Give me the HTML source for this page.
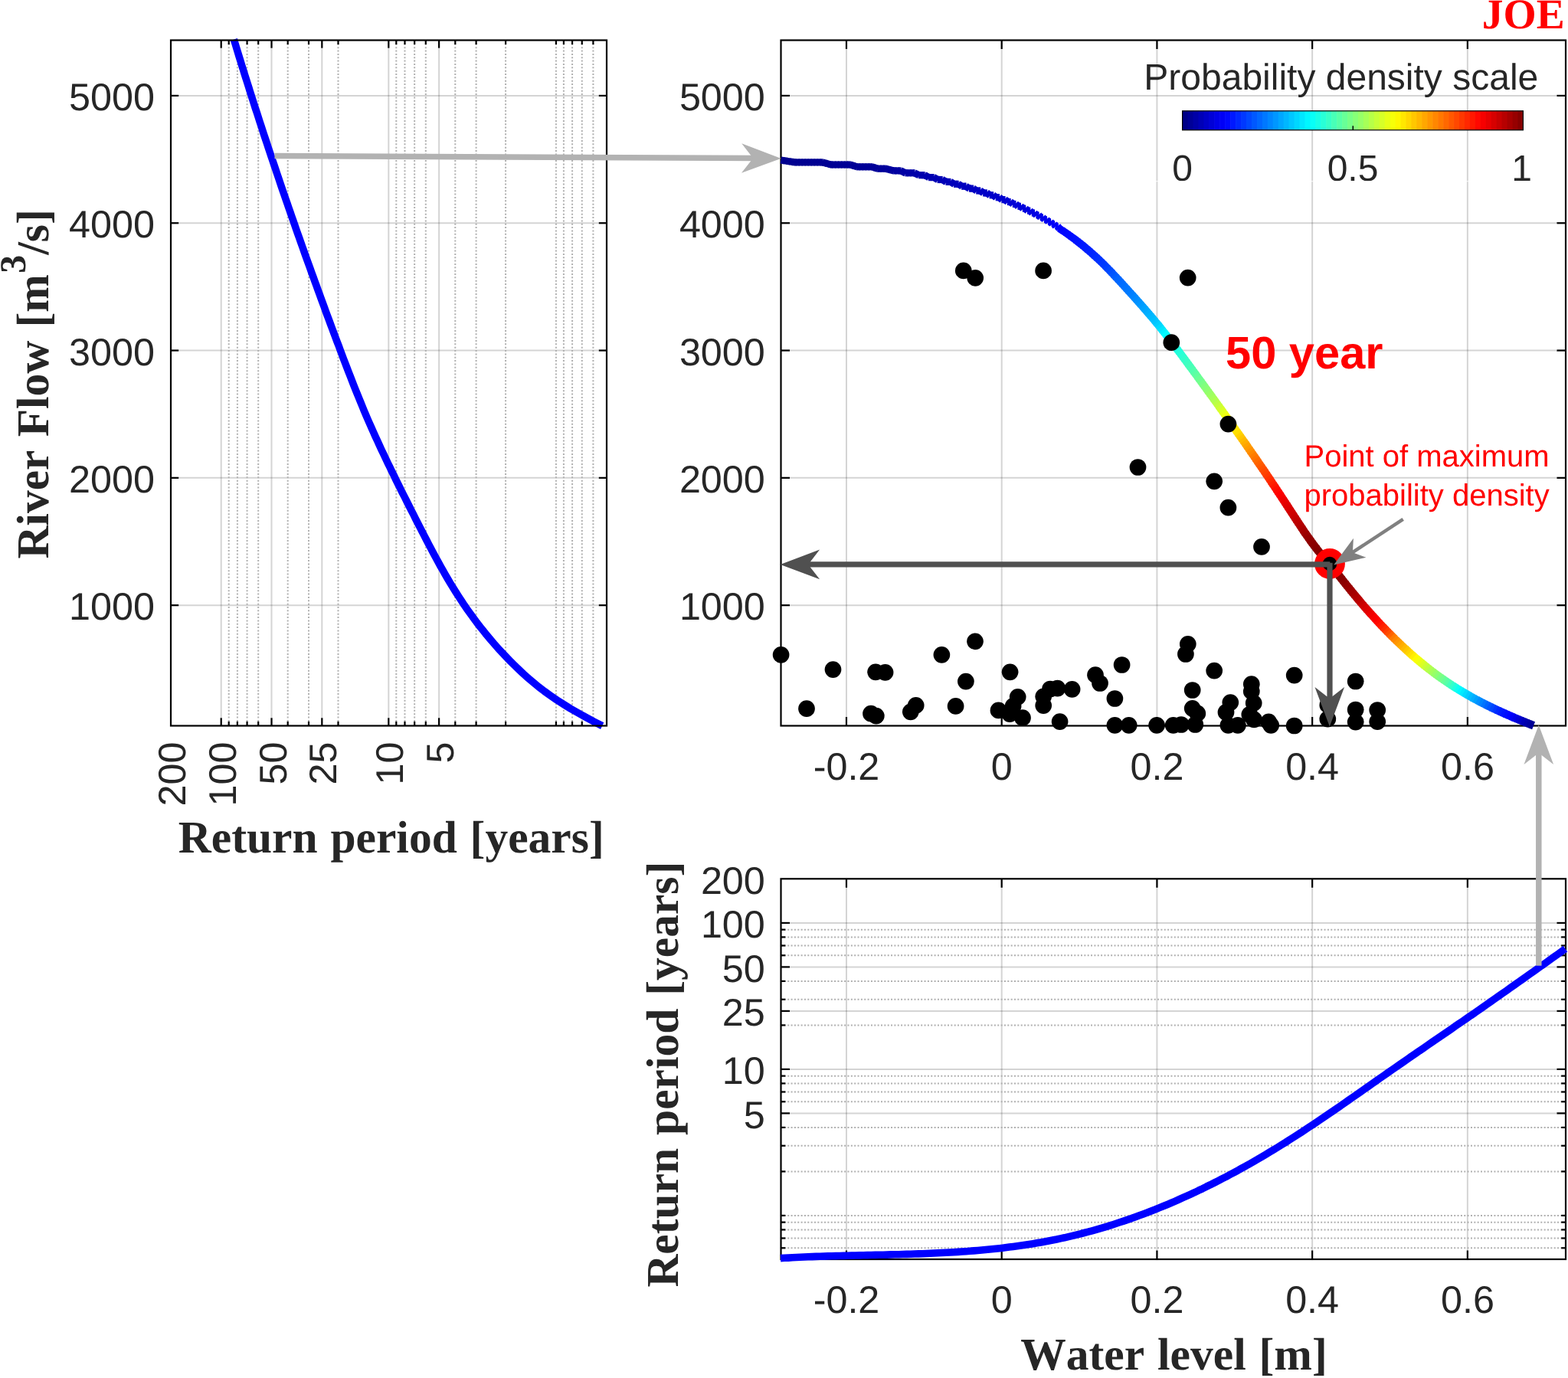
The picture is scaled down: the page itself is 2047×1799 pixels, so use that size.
<!DOCTYPE html>
<html lang="en"><head><meta charset="utf-8"><title>JOE</title>
<style>
html,body{margin:0;padding:0;background:#fff;}
body{width:2047px;height:1799px;overflow:hidden;}
svg{display:block;}
text{white-space:pre;font-kerning:none;}
</style></head>
<body>
<svg width="2047" height="1799" viewBox="0 0 2047 1799" text-rendering="geometricPrecision">
<rect width="2047" height="1799" fill="#fff"/>
<defs>
<clipPath id="cl"><rect x="223.0" y="50.0" width="569.0" height="900.0"/></clipPath>
<clipPath id="cb"><rect x="1018.5" y="1147.3" width="1028.0" height="499.20000000000005"/></clipPath>
<clipPath id="cc"><rect x="1019.5" y="52.5" width="1024.5" height="896.0"/></clipPath>
</defs>
<g id="left">
<line x1="288.70" y1="52.50" x2="288.70" y2="947.50" stroke="rgba(38,38,38,0.2)" stroke-width="2" />
<line x1="354.51" y1="52.50" x2="354.51" y2="947.50" stroke="rgba(38,38,38,0.2)" stroke-width="2" />
<line x1="420.31" y1="52.50" x2="420.31" y2="947.50" stroke="rgba(38,38,38,0.2)" stroke-width="2" />
<line x1="507.30" y1="52.50" x2="507.30" y2="947.50" stroke="rgba(38,38,38,0.2)" stroke-width="2" />
<line x1="573.11" y1="52.50" x2="573.11" y2="947.50" stroke="rgba(38,38,38,0.2)" stroke-width="2" />
<line x1="223.00" y1="790.18" x2="792.00" y2="790.18" stroke="rgba(38,38,38,0.2)" stroke-width="2" />
<line x1="223.00" y1="623.86" x2="792.00" y2="623.86" stroke="rgba(38,38,38,0.2)" stroke-width="2" />
<line x1="223.00" y1="457.54" x2="792.00" y2="457.54" stroke="rgba(38,38,38,0.2)" stroke-width="2" />
<line x1="223.00" y1="291.22" x2="792.00" y2="291.22" stroke="rgba(38,38,38,0.2)" stroke-width="2" />
<line x1="223.00" y1="124.90" x2="792.00" y2="124.90" stroke="rgba(38,38,38,0.2)" stroke-width="2" />
<line x1="298.70" y1="52.50" x2="298.70" y2="947.50" stroke="#b0b0b0" stroke-width="2" stroke-dasharray="2 2.35"/>
<line x1="309.88" y1="52.50" x2="309.88" y2="947.50" stroke="#b0b0b0" stroke-width="2" stroke-dasharray="2 2.35"/>
<line x1="322.56" y1="52.50" x2="322.56" y2="947.50" stroke="#b0b0b0" stroke-width="2" stroke-dasharray="2 2.35"/>
<line x1="337.20" y1="52.50" x2="337.20" y2="947.50" stroke="#b0b0b0" stroke-width="2" stroke-dasharray="2 2.35"/>
<line x1="375.69" y1="52.50" x2="375.69" y2="947.50" stroke="#b0b0b0" stroke-width="2" stroke-dasharray="2 2.35"/>
<line x1="403.00" y1="52.50" x2="403.00" y2="947.50" stroke="#b0b0b0" stroke-width="2" stroke-dasharray="2 2.35"/>
<line x1="441.49" y1="52.50" x2="441.49" y2="947.50" stroke="#b0b0b0" stroke-width="2" stroke-dasharray="2 2.35"/>
<line x1="517.30" y1="52.50" x2="517.30" y2="947.50" stroke="#b0b0b0" stroke-width="2" stroke-dasharray="2 2.35"/>
<line x1="528.48" y1="52.50" x2="528.48" y2="947.50" stroke="#b0b0b0" stroke-width="2" stroke-dasharray="2 2.35"/>
<line x1="541.16" y1="52.50" x2="541.16" y2="947.50" stroke="#b0b0b0" stroke-width="2" stroke-dasharray="2 2.35"/>
<line x1="555.80" y1="52.50" x2="555.80" y2="947.50" stroke="#b0b0b0" stroke-width="2" stroke-dasharray="2 2.35"/>
<line x1="594.29" y1="52.50" x2="594.29" y2="947.50" stroke="#b0b0b0" stroke-width="2" stroke-dasharray="2 2.35"/>
<line x1="621.60" y1="52.50" x2="621.60" y2="947.50" stroke="#b0b0b0" stroke-width="2" stroke-dasharray="2 2.35"/>
<line x1="660.09" y1="52.50" x2="660.09" y2="947.50" stroke="#b0b0b0" stroke-width="2" stroke-dasharray="2 2.35"/>
<line x1="725.90" y1="52.50" x2="725.90" y2="947.50" stroke="#b0b0b0" stroke-width="2" stroke-dasharray="2 2.35"/>
<line x1="735.90" y1="52.50" x2="735.90" y2="947.50" stroke="#b0b0b0" stroke-width="2" stroke-dasharray="2 2.35"/>
<line x1="747.08" y1="52.50" x2="747.08" y2="947.50" stroke="#b0b0b0" stroke-width="2" stroke-dasharray="2 2.35"/>
<line x1="759.76" y1="52.50" x2="759.76" y2="947.50" stroke="#b0b0b0" stroke-width="2" stroke-dasharray="2 2.35"/>
<line x1="774.40" y1="52.50" x2="774.40" y2="947.50" stroke="#b0b0b0" stroke-width="2" stroke-dasharray="2 2.35"/>
<line x1="288.70" y1="52.50" x2="288.70" y2="62.70" stroke="#000000" stroke-width="2.2" />
<line x1="288.70" y1="947.50" x2="288.70" y2="937.30" stroke="#000000" stroke-width="2.2" />
<line x1="354.51" y1="52.50" x2="354.51" y2="62.70" stroke="#000000" stroke-width="2.2" />
<line x1="354.51" y1="947.50" x2="354.51" y2="937.30" stroke="#000000" stroke-width="2.2" />
<line x1="420.31" y1="52.50" x2="420.31" y2="62.70" stroke="#000000" stroke-width="2.2" />
<line x1="420.31" y1="947.50" x2="420.31" y2="937.30" stroke="#000000" stroke-width="2.2" />
<line x1="507.30" y1="52.50" x2="507.30" y2="62.70" stroke="#000000" stroke-width="2.2" />
<line x1="507.30" y1="947.50" x2="507.30" y2="937.30" stroke="#000000" stroke-width="2.2" />
<line x1="573.11" y1="52.50" x2="573.11" y2="62.70" stroke="#000000" stroke-width="2.2" />
<line x1="573.11" y1="947.50" x2="573.11" y2="937.30" stroke="#000000" stroke-width="2.2" />
<line x1="298.70" y1="52.50" x2="298.70" y2="58.10" stroke="#000000" stroke-width="2.2" />
<line x1="298.70" y1="947.50" x2="298.70" y2="941.90" stroke="#000000" stroke-width="2.2" />
<line x1="309.88" y1="52.50" x2="309.88" y2="58.10" stroke="#000000" stroke-width="2.2" />
<line x1="309.88" y1="947.50" x2="309.88" y2="941.90" stroke="#000000" stroke-width="2.2" />
<line x1="322.56" y1="52.50" x2="322.56" y2="58.10" stroke="#000000" stroke-width="2.2" />
<line x1="322.56" y1="947.50" x2="322.56" y2="941.90" stroke="#000000" stroke-width="2.2" />
<line x1="337.20" y1="52.50" x2="337.20" y2="58.10" stroke="#000000" stroke-width="2.2" />
<line x1="337.20" y1="947.50" x2="337.20" y2="941.90" stroke="#000000" stroke-width="2.2" />
<line x1="375.69" y1="52.50" x2="375.69" y2="58.10" stroke="#000000" stroke-width="2.2" />
<line x1="375.69" y1="947.50" x2="375.69" y2="941.90" stroke="#000000" stroke-width="2.2" />
<line x1="403.00" y1="52.50" x2="403.00" y2="58.10" stroke="#000000" stroke-width="2.2" />
<line x1="403.00" y1="947.50" x2="403.00" y2="941.90" stroke="#000000" stroke-width="2.2" />
<line x1="441.49" y1="52.50" x2="441.49" y2="58.10" stroke="#000000" stroke-width="2.2" />
<line x1="441.49" y1="947.50" x2="441.49" y2="941.90" stroke="#000000" stroke-width="2.2" />
<line x1="517.30" y1="52.50" x2="517.30" y2="58.10" stroke="#000000" stroke-width="2.2" />
<line x1="517.30" y1="947.50" x2="517.30" y2="941.90" stroke="#000000" stroke-width="2.2" />
<line x1="528.48" y1="52.50" x2="528.48" y2="58.10" stroke="#000000" stroke-width="2.2" />
<line x1="528.48" y1="947.50" x2="528.48" y2="941.90" stroke="#000000" stroke-width="2.2" />
<line x1="541.16" y1="52.50" x2="541.16" y2="58.10" stroke="#000000" stroke-width="2.2" />
<line x1="541.16" y1="947.50" x2="541.16" y2="941.90" stroke="#000000" stroke-width="2.2" />
<line x1="555.80" y1="52.50" x2="555.80" y2="58.10" stroke="#000000" stroke-width="2.2" />
<line x1="555.80" y1="947.50" x2="555.80" y2="941.90" stroke="#000000" stroke-width="2.2" />
<line x1="594.29" y1="52.50" x2="594.29" y2="58.10" stroke="#000000" stroke-width="2.2" />
<line x1="594.29" y1="947.50" x2="594.29" y2="941.90" stroke="#000000" stroke-width="2.2" />
<line x1="621.60" y1="52.50" x2="621.60" y2="58.10" stroke="#000000" stroke-width="2.2" />
<line x1="621.60" y1="947.50" x2="621.60" y2="941.90" stroke="#000000" stroke-width="2.2" />
<line x1="660.09" y1="52.50" x2="660.09" y2="58.10" stroke="#000000" stroke-width="2.2" />
<line x1="660.09" y1="947.50" x2="660.09" y2="941.90" stroke="#000000" stroke-width="2.2" />
<line x1="725.90" y1="52.50" x2="725.90" y2="58.10" stroke="#000000" stroke-width="2.2" />
<line x1="725.90" y1="947.50" x2="725.90" y2="941.90" stroke="#000000" stroke-width="2.2" />
<line x1="735.90" y1="52.50" x2="735.90" y2="58.10" stroke="#000000" stroke-width="2.2" />
<line x1="735.90" y1="947.50" x2="735.90" y2="941.90" stroke="#000000" stroke-width="2.2" />
<line x1="747.08" y1="52.50" x2="747.08" y2="58.10" stroke="#000000" stroke-width="2.2" />
<line x1="747.08" y1="947.50" x2="747.08" y2="941.90" stroke="#000000" stroke-width="2.2" />
<line x1="759.76" y1="52.50" x2="759.76" y2="58.10" stroke="#000000" stroke-width="2.2" />
<line x1="759.76" y1="947.50" x2="759.76" y2="941.90" stroke="#000000" stroke-width="2.2" />
<line x1="774.40" y1="52.50" x2="774.40" y2="58.10" stroke="#000000" stroke-width="2.2" />
<line x1="774.40" y1="947.50" x2="774.40" y2="941.90" stroke="#000000" stroke-width="2.2" />
<line x1="223.00" y1="790.18" x2="233.20" y2="790.18" stroke="#000000" stroke-width="2.2" />
<line x1="792.00" y1="790.18" x2="781.80" y2="790.18" stroke="#000000" stroke-width="2.2" />
<line x1="223.00" y1="623.86" x2="233.20" y2="623.86" stroke="#000000" stroke-width="2.2" />
<line x1="792.00" y1="623.86" x2="781.80" y2="623.86" stroke="#000000" stroke-width="2.2" />
<line x1="223.00" y1="457.54" x2="233.20" y2="457.54" stroke="#000000" stroke-width="2.2" />
<line x1="792.00" y1="457.54" x2="781.80" y2="457.54" stroke="#000000" stroke-width="2.2" />
<line x1="223.00" y1="291.22" x2="233.20" y2="291.22" stroke="#000000" stroke-width="2.2" />
<line x1="792.00" y1="291.22" x2="781.80" y2="291.22" stroke="#000000" stroke-width="2.2" />
<line x1="223.00" y1="124.90" x2="233.20" y2="124.90" stroke="#000000" stroke-width="2.2" />
<line x1="792.00" y1="124.90" x2="781.80" y2="124.90" stroke="#000000" stroke-width="2.2" />
<path d="M305.3,51.5 L307.1,57.1 L308.8,62.8 L310.5,68.4 L312.2,74.0 L314.0,79.7 L315.7,85.3 L317.5,91.0 L319.2,96.6 L321.0,102.2 L322.8,107.9 L324.6,113.5 L326.3,119.1 L328.1,124.8 L329.9,130.4 L331.7,136.0 L333.5,141.7 L335.4,147.3 L337.2,152.9 L339.0,158.6 L340.9,164.2 L342.7,169.9 L344.5,175.5 L346.4,181.1 L348.3,186.8 L350.1,192.4 L352.0,198.0 L353.9,203.7 L355.8,209.3 L357.7,214.9 L359.6,220.6 L361.5,226.2 L363.4,231.8 L365.3,237.5 L367.2,243.1 L369.1,248.8 L371.1,254.4 L373.0,260.0 L375.0,265.7 L376.9,271.3 L378.9,276.9 L380.8,282.6 L382.8,288.2 L384.8,293.8 L386.7,299.5 L388.7,305.1 L390.7,310.7 L392.7,316.4 L394.7,322.0 L396.7,327.7 L398.7,333.3 L400.7,338.9 L402.8,344.6 L404.8,350.2 L406.8,355.8 L408.9,361.5 L410.9,367.1 L413.0,372.7 L415.0,378.4 L417.1,384.0 L419.1,389.7 L421.2,395.3 L423.3,400.9 L425.3,406.6 L427.4,412.2 L429.5,417.8 L431.6,423.5 L433.7,429.1 L435.8,434.7 L437.9,440.4 L440.0,446.0 L442.2,451.6 L444.3,457.3 L446.4,462.9 L448.5,468.6 L450.7,474.2 L452.8,479.8 L455.0,485.5 L457.2,491.1 L459.4,496.7 L461.6,502.4 L463.8,508.0 L466.1,513.6 L468.4,519.3 L470.7,524.9 L473.0,530.5 L475.3,536.2 L477.7,541.8 L480.1,547.5 L482.6,553.1 L485.1,558.7 L487.6,564.4 L490.1,570.0 L492.7,575.6 L495.3,581.3 L497.9,586.9 L500.6,592.5 L503.3,598.2 L505.9,603.8 L508.7,609.4 L511.4,615.1 L514.2,620.7 L516.9,626.4 L519.7,632.0 L522.5,637.6 L525.3,643.3 L528.2,648.9 L531.0,654.5 L533.9,660.2 L536.7,665.8 L539.6,671.4 L542.4,677.1 L545.3,682.7 L548.2,688.4 L551.1,694.0 L554.0,699.6 L556.9,705.3 L559.8,710.9 L562.8,716.5 L565.8,722.2 L568.8,727.8 L571.9,733.4 L575.0,739.1 L578.2,744.7 L581.4,750.3 L584.7,756.0 L588.0,761.6 L591.5,767.3 L595.0,772.9 L598.6,778.5 L602.3,784.2 L606.0,789.8 L609.9,795.4 L613.9,801.1 L618.0,806.7 L622.2,812.3 L626.5,818.0 L631.0,823.6 L635.5,829.2 L640.3,834.9 L645.1,840.5 L650.1,846.2 L655.3,851.8 L660.6,857.4 L666.1,863.1 L671.7,868.7 L677.5,874.3 L683.6,880.0 L689.9,885.6 L696.5,891.2 L703.4,896.9 L710.8,902.5 L718.6,908.1 L726.8,913.8 L735.6,919.4 L744.8,925.1 L754.5,930.7 L764.6,936.3 L775.2,942.0 L786.2,947.6" fill="none" stroke="#0000ff" stroke-width="9.6" stroke-linejoin="round"/>
<rect x="223.0" y="52.5" width="569.0" height="895.0" fill="none" stroke="#000000" stroke-width="2.2"/>
<text x="202" y="809.4" text-anchor="end" font-family="'Liberation Sans', Arial, Helvetica, sans-serif" font-size="50.3" fill="#262626">1000</text>
<text x="202" y="643.1" text-anchor="end" font-family="'Liberation Sans', Arial, Helvetica, sans-serif" font-size="50.3" fill="#262626">2000</text>
<text x="202" y="476.7" text-anchor="end" font-family="'Liberation Sans', Arial, Helvetica, sans-serif" font-size="50.3" fill="#262626">3000</text>
<text x="202" y="310.4" text-anchor="end" font-family="'Liberation Sans', Arial, Helvetica, sans-serif" font-size="50.3" fill="#262626">4000</text>
<text x="202" y="144.1" text-anchor="end" font-family="'Liberation Sans', Arial, Helvetica, sans-serif" font-size="50.3" fill="#262626">5000</text>
<text transform="translate(241.9,968.5) rotate(-90)" text-anchor="end" font-family="'Liberation Sans', Arial, Helvetica, sans-serif" font-size="50.3" fill="#262626">200</text>
<text transform="translate(307.7,968.5) rotate(-90)" text-anchor="end" font-family="'Liberation Sans', Arial, Helvetica, sans-serif" font-size="50.3" fill="#262626">100</text>
<text transform="translate(373.5,968.5) rotate(-90)" text-anchor="end" font-family="'Liberation Sans', Arial, Helvetica, sans-serif" font-size="50.3" fill="#262626">50</text>
<text transform="translate(439.3,968.5) rotate(-90)" text-anchor="end" font-family="'Liberation Sans', Arial, Helvetica, sans-serif" font-size="50.3" fill="#262626">25</text>
<text transform="translate(526.3,968.5) rotate(-90)" text-anchor="end" font-family="'Liberation Sans', Arial, Helvetica, sans-serif" font-size="50.3" fill="#262626">10</text>
<text transform="translate(592.1,968.5) rotate(-90)" text-anchor="end" font-family="'Liberation Sans', Arial, Helvetica, sans-serif" font-size="50.3" fill="#262626">5</text>
<text x="232.8" y="1112.9" word-spacing="2" font-family="'Liberation Serif', 'Times New Roman', Times, serif" font-weight="bold" font-size="59.5" fill="#262626">Return period [years]</text>
<text transform="translate(62.8,729.6) rotate(-90)" word-spacing="2.3" font-family="'Liberation Serif', 'Times New Roman', Times, serif" font-weight="bold" font-size="59.5" fill="#262626">River Flow [m<tspan font-size="48" dy="-30.3" dx="1.5">3</tspan><tspan dy="30.3" dx="0">/s]</tspan></text>
</g>
<g id="bottom">
<line x1="1019.50" y1="1204.90" x2="2044.00" y2="1204.90" stroke="rgba(38,38,38,0.2)" stroke-width="2" />
<line x1="1019.50" y1="1262.40" x2="2044.00" y2="1262.40" stroke="rgba(38,38,38,0.2)" stroke-width="2" />
<line x1="1019.50" y1="1319.89" x2="2044.00" y2="1319.89" stroke="rgba(38,38,38,0.2)" stroke-width="2" />
<line x1="1019.50" y1="1395.90" x2="2044.00" y2="1395.90" stroke="rgba(38,38,38,0.2)" stroke-width="2" />
<line x1="1019.50" y1="1453.40" x2="2044.00" y2="1453.40" stroke="rgba(38,38,38,0.2)" stroke-width="2" />
<line x1="1104.98" y1="1147.30" x2="1104.98" y2="1644.00" stroke="rgba(38,38,38,0.2)" stroke-width="2" />
<line x1="1307.70" y1="1147.30" x2="1307.70" y2="1644.00" stroke="rgba(38,38,38,0.2)" stroke-width="2" />
<line x1="1510.42" y1="1147.30" x2="1510.42" y2="1644.00" stroke="rgba(38,38,38,0.2)" stroke-width="2" />
<line x1="1713.14" y1="1147.30" x2="1713.14" y2="1644.00" stroke="rgba(38,38,38,0.2)" stroke-width="2" />
<line x1="1915.86" y1="1147.30" x2="1915.86" y2="1644.00" stroke="rgba(38,38,38,0.2)" stroke-width="2" />
<line x1="1019.50" y1="1213.64" x2="2044.00" y2="1213.64" stroke="#b0b0b0" stroke-width="2" stroke-dasharray="2 2.35"/>
<line x1="1019.50" y1="1223.41" x2="2044.00" y2="1223.41" stroke="#b0b0b0" stroke-width="2" stroke-dasharray="2 2.35"/>
<line x1="1019.50" y1="1234.49" x2="2044.00" y2="1234.49" stroke="#b0b0b0" stroke-width="2" stroke-dasharray="2 2.35"/>
<line x1="1019.50" y1="1247.27" x2="2044.00" y2="1247.27" stroke="#b0b0b0" stroke-width="2" stroke-dasharray="2 2.35"/>
<line x1="1019.50" y1="1280.91" x2="2044.00" y2="1280.91" stroke="#b0b0b0" stroke-width="2" stroke-dasharray="2 2.35"/>
<line x1="1019.50" y1="1304.77" x2="2044.00" y2="1304.77" stroke="#b0b0b0" stroke-width="2" stroke-dasharray="2 2.35"/>
<line x1="1019.50" y1="1338.40" x2="2044.00" y2="1338.40" stroke="#b0b0b0" stroke-width="2" stroke-dasharray="2 2.35"/>
<line x1="1019.50" y1="1404.64" x2="2044.00" y2="1404.64" stroke="#b0b0b0" stroke-width="2" stroke-dasharray="2 2.35"/>
<line x1="1019.50" y1="1414.41" x2="2044.00" y2="1414.41" stroke="#b0b0b0" stroke-width="2" stroke-dasharray="2 2.35"/>
<line x1="1019.50" y1="1425.49" x2="2044.00" y2="1425.49" stroke="#b0b0b0" stroke-width="2" stroke-dasharray="2 2.35"/>
<line x1="1019.50" y1="1438.27" x2="2044.00" y2="1438.27" stroke="#b0b0b0" stroke-width="2" stroke-dasharray="2 2.35"/>
<line x1="1019.50" y1="1471.91" x2="2044.00" y2="1471.91" stroke="#b0b0b0" stroke-width="2" stroke-dasharray="2 2.35"/>
<line x1="1019.50" y1="1495.77" x2="2044.00" y2="1495.77" stroke="#b0b0b0" stroke-width="2" stroke-dasharray="2 2.35"/>
<line x1="1019.50" y1="1529.40" x2="2044.00" y2="1529.40" stroke="#b0b0b0" stroke-width="2" stroke-dasharray="2 2.35"/>
<line x1="1019.50" y1="1586.90" x2="2044.00" y2="1586.90" stroke="#b0b0b0" stroke-width="2" stroke-dasharray="2 2.35"/>
<line x1="1019.50" y1="1595.64" x2="2044.00" y2="1595.64" stroke="#b0b0b0" stroke-width="2" stroke-dasharray="2 2.35"/>
<line x1="1019.50" y1="1605.41" x2="2044.00" y2="1605.41" stroke="#b0b0b0" stroke-width="2" stroke-dasharray="2 2.35"/>
<line x1="1019.50" y1="1616.49" x2="2044.00" y2="1616.49" stroke="#b0b0b0" stroke-width="2" stroke-dasharray="2 2.35"/>
<line x1="1019.50" y1="1629.27" x2="2044.00" y2="1629.27" stroke="#b0b0b0" stroke-width="2" stroke-dasharray="2 2.35"/>
<line x1="1019.50" y1="1204.90" x2="1031.00" y2="1204.90" stroke="#000000" stroke-width="2.2" />
<line x1="2044.00" y1="1204.90" x2="2032.50" y2="1204.90" stroke="#000000" stroke-width="2.2" />
<line x1="1019.50" y1="1262.40" x2="1031.00" y2="1262.40" stroke="#000000" stroke-width="2.2" />
<line x1="2044.00" y1="1262.40" x2="2032.50" y2="1262.40" stroke="#000000" stroke-width="2.2" />
<line x1="1019.50" y1="1319.89" x2="1031.00" y2="1319.89" stroke="#000000" stroke-width="2.2" />
<line x1="2044.00" y1="1319.89" x2="2032.50" y2="1319.89" stroke="#000000" stroke-width="2.2" />
<line x1="1019.50" y1="1395.90" x2="1031.00" y2="1395.90" stroke="#000000" stroke-width="2.2" />
<line x1="2044.00" y1="1395.90" x2="2032.50" y2="1395.90" stroke="#000000" stroke-width="2.2" />
<line x1="1019.50" y1="1453.40" x2="1031.00" y2="1453.40" stroke="#000000" stroke-width="2.2" />
<line x1="2044.00" y1="1453.40" x2="2032.50" y2="1453.40" stroke="#000000" stroke-width="2.2" />
<line x1="1019.50" y1="1213.64" x2="1025.30" y2="1213.64" stroke="#000000" stroke-width="2.2" />
<line x1="2044.00" y1="1213.64" x2="2038.20" y2="1213.64" stroke="#000000" stroke-width="2.2" />
<line x1="1019.50" y1="1223.41" x2="1025.30" y2="1223.41" stroke="#000000" stroke-width="2.2" />
<line x1="2044.00" y1="1223.41" x2="2038.20" y2="1223.41" stroke="#000000" stroke-width="2.2" />
<line x1="1019.50" y1="1234.49" x2="1025.30" y2="1234.49" stroke="#000000" stroke-width="2.2" />
<line x1="2044.00" y1="1234.49" x2="2038.20" y2="1234.49" stroke="#000000" stroke-width="2.2" />
<line x1="1019.50" y1="1247.27" x2="1025.30" y2="1247.27" stroke="#000000" stroke-width="2.2" />
<line x1="2044.00" y1="1247.27" x2="2038.20" y2="1247.27" stroke="#000000" stroke-width="2.2" />
<line x1="1019.50" y1="1280.91" x2="1025.30" y2="1280.91" stroke="#000000" stroke-width="2.2" />
<line x1="2044.00" y1="1280.91" x2="2038.20" y2="1280.91" stroke="#000000" stroke-width="2.2" />
<line x1="1019.50" y1="1304.77" x2="1025.30" y2="1304.77" stroke="#000000" stroke-width="2.2" />
<line x1="2044.00" y1="1304.77" x2="2038.20" y2="1304.77" stroke="#000000" stroke-width="2.2" />
<line x1="1019.50" y1="1338.40" x2="1025.30" y2="1338.40" stroke="#000000" stroke-width="2.2" />
<line x1="2044.00" y1="1338.40" x2="2038.20" y2="1338.40" stroke="#000000" stroke-width="2.2" />
<line x1="1019.50" y1="1404.64" x2="1025.30" y2="1404.64" stroke="#000000" stroke-width="2.2" />
<line x1="2044.00" y1="1404.64" x2="2038.20" y2="1404.64" stroke="#000000" stroke-width="2.2" />
<line x1="1019.50" y1="1414.41" x2="1025.30" y2="1414.41" stroke="#000000" stroke-width="2.2" />
<line x1="2044.00" y1="1414.41" x2="2038.20" y2="1414.41" stroke="#000000" stroke-width="2.2" />
<line x1="1019.50" y1="1425.49" x2="1025.30" y2="1425.49" stroke="#000000" stroke-width="2.2" />
<line x1="2044.00" y1="1425.49" x2="2038.20" y2="1425.49" stroke="#000000" stroke-width="2.2" />
<line x1="1019.50" y1="1438.27" x2="1025.30" y2="1438.27" stroke="#000000" stroke-width="2.2" />
<line x1="2044.00" y1="1438.27" x2="2038.20" y2="1438.27" stroke="#000000" stroke-width="2.2" />
<line x1="1019.50" y1="1471.91" x2="1025.30" y2="1471.91" stroke="#000000" stroke-width="2.2" />
<line x1="2044.00" y1="1471.91" x2="2038.20" y2="1471.91" stroke="#000000" stroke-width="2.2" />
<line x1="1019.50" y1="1495.77" x2="1025.30" y2="1495.77" stroke="#000000" stroke-width="2.2" />
<line x1="2044.00" y1="1495.77" x2="2038.20" y2="1495.77" stroke="#000000" stroke-width="2.2" />
<line x1="1019.50" y1="1529.40" x2="1025.30" y2="1529.40" stroke="#000000" stroke-width="2.2" />
<line x1="2044.00" y1="1529.40" x2="2038.20" y2="1529.40" stroke="#000000" stroke-width="2.2" />
<line x1="1019.50" y1="1586.90" x2="1025.30" y2="1586.90" stroke="#000000" stroke-width="2.2" />
<line x1="2044.00" y1="1586.90" x2="2038.20" y2="1586.90" stroke="#000000" stroke-width="2.2" />
<line x1="1019.50" y1="1595.64" x2="1025.30" y2="1595.64" stroke="#000000" stroke-width="2.2" />
<line x1="2044.00" y1="1595.64" x2="2038.20" y2="1595.64" stroke="#000000" stroke-width="2.2" />
<line x1="1019.50" y1="1605.41" x2="1025.30" y2="1605.41" stroke="#000000" stroke-width="2.2" />
<line x1="2044.00" y1="1605.41" x2="2038.20" y2="1605.41" stroke="#000000" stroke-width="2.2" />
<line x1="1019.50" y1="1616.49" x2="1025.30" y2="1616.49" stroke="#000000" stroke-width="2.2" />
<line x1="2044.00" y1="1616.49" x2="2038.20" y2="1616.49" stroke="#000000" stroke-width="2.2" />
<line x1="1019.50" y1="1629.27" x2="1025.30" y2="1629.27" stroke="#000000" stroke-width="2.2" />
<line x1="2044.00" y1="1629.27" x2="2038.20" y2="1629.27" stroke="#000000" stroke-width="2.2" />
<line x1="1104.98" y1="1147.30" x2="1104.98" y2="1158.80" stroke="#000000" stroke-width="2.2" />
<line x1="1104.98" y1="1644.00" x2="1104.98" y2="1632.50" stroke="#000000" stroke-width="2.2" />
<line x1="1307.70" y1="1147.30" x2="1307.70" y2="1158.80" stroke="#000000" stroke-width="2.2" />
<line x1="1307.70" y1="1644.00" x2="1307.70" y2="1632.50" stroke="#000000" stroke-width="2.2" />
<line x1="1510.42" y1="1147.30" x2="1510.42" y2="1158.80" stroke="#000000" stroke-width="2.2" />
<line x1="1510.42" y1="1644.00" x2="1510.42" y2="1632.50" stroke="#000000" stroke-width="2.2" />
<line x1="1713.14" y1="1147.30" x2="1713.14" y2="1158.80" stroke="#000000" stroke-width="2.2" />
<line x1="1713.14" y1="1644.00" x2="1713.14" y2="1632.50" stroke="#000000" stroke-width="2.2" />
<line x1="1915.86" y1="1147.30" x2="1915.86" y2="1158.80" stroke="#000000" stroke-width="2.2" />
<line x1="1915.86" y1="1644.00" x2="1915.86" y2="1632.50" stroke="#000000" stroke-width="2.2" />
<rect x="1019.5" y="1147.3" width="1024.5" height="496.70000000000005" fill="none" stroke="#000000" stroke-width="2.2"/>
<path d="M1019.0,1642.6 L1024.1,1642.3 L1029.3,1642.1 L1034.4,1641.8 L1039.6,1641.5 L1044.7,1641.3 L1049.9,1641.0 L1055.0,1640.8 L1060.2,1640.6 L1065.3,1640.4 L1070.5,1640.3 L1075.6,1640.1 L1080.8,1639.9 L1085.9,1639.8 L1091.1,1639.6 L1096.2,1639.5 L1101.4,1639.4 L1106.5,1639.2 L1111.7,1639.1 L1116.8,1639.0 L1122.0,1638.9 L1127.1,1638.8 L1132.3,1638.6 L1137.4,1638.5 L1142.6,1638.4 L1147.7,1638.3 L1152.9,1638.2 L1158.0,1638.1 L1163.2,1637.9 L1168.3,1637.8 L1173.4,1637.7 L1178.6,1637.5 L1183.7,1637.4 L1188.9,1637.2 L1194.0,1637.0 L1199.2,1636.9 L1204.3,1636.7 L1209.5,1636.5 L1214.6,1636.3 L1219.8,1636.0 L1224.9,1635.8 L1230.1,1635.5 L1235.2,1635.3 L1240.4,1635.0 L1245.5,1634.7 L1250.7,1634.4 L1255.8,1634.0 L1261.0,1633.7 L1266.1,1633.3 L1271.3,1632.9 L1276.4,1632.5 L1281.6,1632.0 L1286.7,1631.5 L1291.9,1631.0 L1297.0,1630.5 L1302.2,1630.0 L1307.3,1629.4 L1312.4,1628.8 L1317.6,1628.1 L1322.7,1627.5 L1327.9,1626.8 L1333.0,1626.1 L1338.2,1625.3 L1343.3,1624.5 L1348.5,1623.7 L1353.6,1622.8 L1358.8,1621.9 L1363.9,1621.0 L1369.1,1620.0 L1374.2,1619.0 L1379.4,1618.0 L1384.5,1616.9 L1389.7,1615.8 L1394.8,1614.6 L1400.0,1613.4 L1405.1,1612.2 L1410.3,1610.9 L1415.4,1609.5 L1420.6,1608.2 L1425.7,1606.8 L1430.9,1605.3 L1436.0,1603.8 L1441.2,1602.3 L1446.3,1600.8 L1451.5,1599.2 L1456.6,1597.5 L1461.7,1595.8 L1466.9,1594.1 L1472.0,1592.4 L1477.2,1590.6 L1482.3,1588.7 L1487.5,1586.8 L1492.6,1584.9 L1497.8,1583.0 L1502.9,1581.0 L1508.1,1579.0 L1513.2,1576.9 L1518.4,1574.8 L1523.5,1572.7 L1528.7,1570.5 L1533.8,1568.3 L1539.0,1566.0 L1544.1,1563.7 L1549.3,1561.4 L1554.4,1559.1 L1559.6,1556.7 L1564.7,1554.2 L1569.9,1551.8 L1575.0,1549.2 L1580.2,1546.7 L1585.3,1544.1 L1590.5,1541.5 L1595.6,1538.8 L1600.8,1536.2 L1605.9,1533.4 L1611.0,1530.7 L1616.2,1527.9 L1621.3,1525.0 L1626.5,1522.2 L1631.6,1519.3 L1636.8,1516.3 L1641.9,1513.4 L1647.1,1510.3 L1652.2,1507.3 L1657.4,1504.2 L1662.5,1501.1 L1667.7,1498.0 L1672.8,1494.8 L1678.0,1491.6 L1683.1,1488.3 L1688.3,1485.0 L1693.4,1481.7 L1698.6,1478.4 L1703.7,1475.0 L1708.9,1471.6 L1714.0,1468.2 L1719.2,1464.7 L1724.3,1461.3 L1729.5,1457.8 L1734.6,1454.3 L1739.8,1450.7 L1744.9,1447.2 L1750.1,1443.7 L1755.2,1440.1 L1760.3,1436.5 L1765.5,1432.9 L1770.6,1429.3 L1775.8,1425.7 L1780.9,1422.1 L1786.1,1418.5 L1791.2,1414.9 L1796.4,1411.3 L1801.5,1407.7 L1806.7,1404.1 L1811.8,1400.5 L1817.0,1396.9 L1822.1,1393.3 L1827.3,1389.7 L1832.4,1386.2 L1837.6,1382.6 L1842.7,1379.0 L1847.9,1375.5 L1853.0,1371.9 L1858.2,1368.4 L1863.3,1364.9 L1868.5,1361.3 L1873.6,1357.8 L1878.8,1354.3 L1883.9,1350.8 L1889.1,1347.2 L1894.2,1343.7 L1899.3,1340.1 L1904.5,1336.6 L1909.6,1333.1 L1914.8,1329.5 L1919.9,1325.9 L1925.1,1322.4 L1930.2,1318.8 L1935.4,1315.2 L1940.5,1311.6 L1945.7,1308.0 L1950.8,1304.4 L1956.0,1300.8 L1961.1,1297.2 L1966.3,1293.6 L1971.4,1289.9 L1976.6,1286.3 L1981.7,1282.6 L1986.9,1279.0 L1992.0,1275.4 L1997.2,1271.7 L2002.3,1268.1 L2007.5,1264.4 L2012.6,1260.7 L2017.8,1257.1 L2022.9,1253.4 L2028.1,1249.7 L2033.2,1246.1 L2038.4,1242.4 L2043.5,1238.7" fill="none" stroke="#0000ff" stroke-width="9.6" stroke-linejoin="round"/>
<text x="998.8" y="1166.6" text-anchor="end" font-family="'Liberation Sans', Arial, Helvetica, sans-serif" font-size="50.3" fill="#262626">200</text>
<text x="998.8" y="1224.1" text-anchor="end" font-family="'Liberation Sans', Arial, Helvetica, sans-serif" font-size="50.3" fill="#262626">100</text>
<text x="998.8" y="1281.6" text-anchor="end" font-family="'Liberation Sans', Arial, Helvetica, sans-serif" font-size="50.3" fill="#262626">50</text>
<text x="998.8" y="1339.1" text-anchor="end" font-family="'Liberation Sans', Arial, Helvetica, sans-serif" font-size="50.3" fill="#262626">25</text>
<text x="998.8" y="1415.1" text-anchor="end" font-family="'Liberation Sans', Arial, Helvetica, sans-serif" font-size="50.3" fill="#262626">10</text>
<text x="998.8" y="1472.6" text-anchor="end" font-family="'Liberation Sans', Arial, Helvetica, sans-serif" font-size="50.3" fill="#262626">5</text>
<text x="1105.0" y="1714" text-anchor="middle" font-family="'Liberation Sans', Arial, Helvetica, sans-serif" font-size="50.3" fill="#262626">-0.2</text>
<text x="1307.7" y="1714" text-anchor="middle" font-family="'Liberation Sans', Arial, Helvetica, sans-serif" font-size="50.3" fill="#262626">0</text>
<text x="1510.4" y="1714" text-anchor="middle" font-family="'Liberation Sans', Arial, Helvetica, sans-serif" font-size="50.3" fill="#262626">0.2</text>
<text x="1713.1" y="1714" text-anchor="middle" font-family="'Liberation Sans', Arial, Helvetica, sans-serif" font-size="50.3" fill="#262626">0.4</text>
<text x="1915.9" y="1714" text-anchor="middle" font-family="'Liberation Sans', Arial, Helvetica, sans-serif" font-size="50.3" fill="#262626">0.6</text>
<text x="1332.3" y="1788" word-spacing="2" font-family="'Liberation Serif', 'Times New Roman', Times, serif" font-weight="bold" font-size="59.5" fill="#262626">Water level [m]</text>
<text transform="translate(884.8,1680.6) rotate(-90)" word-spacing="2" font-family="'Liberation Serif', 'Times New Roman', Times, serif" font-weight="bold" font-size="59.5" fill="#262626">Return period [years]</text>
</g>
<g id="center">
<line x1="1104.98" y1="52.50" x2="1104.98" y2="947.50" stroke="rgba(38,38,38,0.2)" stroke-width="2" />
<line x1="1307.70" y1="52.50" x2="1307.70" y2="947.50" stroke="rgba(38,38,38,0.2)" stroke-width="2" />
<line x1="1510.42" y1="52.50" x2="1510.42" y2="947.50" stroke="rgba(38,38,38,0.2)" stroke-width="2" />
<line x1="1713.14" y1="52.50" x2="1713.14" y2="947.50" stroke="rgba(38,38,38,0.2)" stroke-width="2" />
<line x1="1915.86" y1="52.50" x2="1915.86" y2="947.50" stroke="rgba(38,38,38,0.2)" stroke-width="2" />
<line x1="1019.50" y1="790.18" x2="2044.00" y2="790.18" stroke="rgba(38,38,38,0.2)" stroke-width="2" />
<line x1="1019.50" y1="623.86" x2="2044.00" y2="623.86" stroke="rgba(38,38,38,0.2)" stroke-width="2" />
<line x1="1019.50" y1="457.54" x2="2044.00" y2="457.54" stroke="rgba(38,38,38,0.2)" stroke-width="2" />
<line x1="1019.50" y1="291.22" x2="2044.00" y2="291.22" stroke="rgba(38,38,38,0.2)" stroke-width="2" />
<line x1="1019.50" y1="124.90" x2="2044.00" y2="124.90" stroke="rgba(38,38,38,0.2)" stroke-width="2" />
<line x1="1104.98" y1="52.50" x2="1104.98" y2="64.00" stroke="#000000" stroke-width="2.2" />
<line x1="1104.98" y1="947.50" x2="1104.98" y2="936.00" stroke="#000000" stroke-width="2.2" />
<line x1="1307.70" y1="52.50" x2="1307.70" y2="64.00" stroke="#000000" stroke-width="2.2" />
<line x1="1307.70" y1="947.50" x2="1307.70" y2="936.00" stroke="#000000" stroke-width="2.2" />
<line x1="1510.42" y1="52.50" x2="1510.42" y2="64.00" stroke="#000000" stroke-width="2.2" />
<line x1="1510.42" y1="947.50" x2="1510.42" y2="936.00" stroke="#000000" stroke-width="2.2" />
<line x1="1713.14" y1="52.50" x2="1713.14" y2="64.00" stroke="#000000" stroke-width="2.2" />
<line x1="1713.14" y1="947.50" x2="1713.14" y2="936.00" stroke="#000000" stroke-width="2.2" />
<line x1="1915.86" y1="52.50" x2="1915.86" y2="64.00" stroke="#000000" stroke-width="2.2" />
<line x1="1915.86" y1="947.50" x2="1915.86" y2="936.00" stroke="#000000" stroke-width="2.2" />
<line x1="1019.50" y1="790.18" x2="1031.00" y2="790.18" stroke="#000000" stroke-width="2.2" />
<line x1="2044.00" y1="790.18" x2="2032.50" y2="790.18" stroke="#000000" stroke-width="2.2" />
<line x1="1019.50" y1="623.86" x2="1031.00" y2="623.86" stroke="#000000" stroke-width="2.2" />
<line x1="2044.00" y1="623.86" x2="2032.50" y2="623.86" stroke="#000000" stroke-width="2.2" />
<line x1="1019.50" y1="457.54" x2="1031.00" y2="457.54" stroke="#000000" stroke-width="2.2" />
<line x1="2044.00" y1="457.54" x2="2032.50" y2="457.54" stroke="#000000" stroke-width="2.2" />
<line x1="1019.50" y1="291.22" x2="1031.00" y2="291.22" stroke="#000000" stroke-width="2.2" />
<line x1="2044.00" y1="291.22" x2="2032.50" y2="291.22" stroke="#000000" stroke-width="2.2" />
<line x1="1019.50" y1="124.90" x2="1031.00" y2="124.90" stroke="#000000" stroke-width="2.2" />
<line x1="2044.00" y1="124.90" x2="2032.50" y2="124.90" stroke="#000000" stroke-width="2.2" />
<rect x="1019.5" y="52.5" width="1024.5" height="895.0" fill="none" stroke="#000000" stroke-width="2.2"/>
<g fill="none" stroke-width="9.2" stroke-linecap="butt">
<path d="M1019.4,209.0L1023.8,209.7" stroke="#00008f"/>
<path d="M1022.9,209.6L1027.8,210.3" stroke="#00008f"/>
<path d="M1026.8,210.2L1031.7,211.0" stroke="#000090"/>
<path d="M1030.8,210.8L1035.7,211.6" stroke="#000090"/>
<path d="M1034.7,211.4L1038.1,212.0" stroke="#000090"/>
<path d="M1037.1,211.9L1039.7,211.9" stroke="#000090"/>
<path d="M1038.7,211.9L1043.7,211.9" stroke="#000091"/>
<path d="M1042.7,211.9L1047.7,211.9" stroke="#000091"/>
<path d="M1046.7,211.9L1051.7,211.9" stroke="#000091"/>
<path d="M1050.7,211.9L1055.7,211.9" stroke="#000091"/>
<path d="M1054.7,211.9L1059.7,211.9" stroke="#000092"/>
<path d="M1058.7,211.9L1063.7,211.9" stroke="#000092"/>
<path d="M1062.7,211.9L1067.7,211.9" stroke="#000092"/>
<path d="M1066.7,211.9L1071.7,211.9" stroke="#000093"/>
<path d="M1070.7,211.9L1074.5,211.9" stroke="#000093"/>
<path d="M1073.5,211.8L1075.6,212.4" stroke="#000093"/>
<path d="M1074.6,212.1L1079.4,213.5" stroke="#000093"/>
<path d="M1078.5,213.2L1083.3,214.6" stroke="#000094"/>
<path d="M1082.3,214.4L1085.0,215.1" stroke="#000094"/>
<path d="M1084.0,215.0L1087.2,215.0" stroke="#000094"/>
<path d="M1086.2,215.0L1091.2,215.0" stroke="#000094"/>
<path d="M1090.2,215.0L1095.2,215.0" stroke="#000095"/>
<path d="M1094.2,215.0L1099.2,215.0" stroke="#000095"/>
<path d="M1098.2,215.0L1103.2,215.0" stroke="#000095"/>
<path d="M1102.2,215.0L1107.2,215.0" stroke="#000095"/>
<path d="M1106.2,215.0L1110.9,215.0" stroke="#000096"/>
<path d="M1109.9,214.8L1115.0,216.6" stroke="#000096"/>
<path d="M1114.0,216.2L1119.1,218.0" stroke="#000096"/>
<path d="M1118.1,217.8L1122.8,217.8" stroke="#000097"/>
<path d="M1121.8,217.8L1126.8,217.8" stroke="#000097"/>
<path d="M1125.8,217.8L1130.8,217.8" stroke="#000097"/>
<path d="M1129.8,217.8L1134.8,217.8" stroke="#000098"/>
<path d="M1133.8,217.8L1139.1,217.8" stroke="#000098"/>
<path d="M1138.1,217.6L1142.5,219.1" stroke="#000098"/>
<path d="M1141.6,218.8L1146.1,220.4" stroke="#000099"/>
<path d="M1145.1,220.2L1150.4,220.2" stroke="#000099"/>
<path d="M1149.4,220.2L1154.4,220.2" stroke="#00009a"/>
<path d="M1153.4,220.2L1156.7,220.2" stroke="#00009b"/>
<path d="M1155.7,220.1L1158.3,220.7" stroke="#00009c"/>
<path d="M1157.3,220.5L1162.2,221.7" stroke="#00009d"/>
<path d="M1161.2,221.5L1166.0,222.7" stroke="#00009e"/>
<path d="M1165.1,222.5L1167.2,223.0" stroke="#00009f"/>
<path d="M1166.2,222.9L1170.0,222.9" stroke="#0000a0"/>
<path d="M1169.0,222.9L1174.0,222.9" stroke="#0000a1"/>
<path d="M1173.0,222.9L1176.5,222.9" stroke="#0000a2"/>
<path d="M1175.5,222.7L1177.8,223.8" stroke="#0000a3"/>
<path d="M1176.9,223.3L1181.4,225.5" stroke="#0000a4"/>
<path d="M1180.5,225.1L1182.4,226.0" stroke="#0000a5"/>
<path d="M1181.5,225.8L1185.4,225.8" stroke="#0000a6"/>
<path d="M1184.4,225.8L1189.4,225.8" stroke="#0000a7"/>
<path d="M1188.4,225.8L1193.4,225.8" stroke="#0000a8"/>
<path d="M1192.4,225.8L1194.5,225.8" stroke="#0000a9"/>
<path d="M1193.6,225.6L1197.0,227.3" stroke="#0000aa"/>
<path d="M1196.1,226.9L1200.0,228.9" stroke="#0000ab"/>
<path d="M1199.1,228.7L1204.6,228.7" stroke="#0000ad"/>
<path d="M1203.6,228.7L1207.6,228.7" stroke="#0000ae"/>
<path d="M1206.7,228.5L1208.5,229.4" stroke="#0000af"/>
<path d="M1207.6,228.9L1212.0,231.3" stroke="#0000b0"/>
<path d="M1211.1,230.8L1212.9,231.8" stroke="#0000b0"/>
<path d="M1212.0,231.6L1215.9,231.6" stroke="#0000b1"/>
<path d="M1214.9,231.6L1219.6,231.6" stroke="#0000b2"/>
<path d="M1218.6,231.3L1223.3,234.0" stroke="#0000b4"/>
<path d="M1222.4,233.5L1224.5,234.8" stroke="#0000b5"/>
<path d="M1223.6,234.5L1227.1,234.5" stroke="#0000b5"/>
<path d="M1226.1,234.5L1230.7,234.5" stroke="#0000b6"/>
<path d="M1229.8,234.2L1234.4,237.0" stroke="#0000b7"/>
<path d="M1233.6,236.5L1235.5,237.7" stroke="#0000b8"/>
<path d="M1234.5,237.4L1238.3,237.4" stroke="#0000b8"/>
<path d="M1237.3,237.4L1241.4,237.4" stroke="#0000b9"/>
<path d="M1240.5,237.1L1242.1,238.1" stroke="#0000ba"/>
<path d="M1241.3,237.6L1246.0,240.6" stroke="#0000ba"/>
<path d="M1245.0,240.3L1249.5,240.3" stroke="#0000bb"/>
<path d="M1248.5,240.3L1251.7,240.3" stroke="#0000bc"/>
<path d="M1250.7,240.0L1253.1,241.6" stroke="#0000bd"/>
<path d="M1252.3,241.0L1256.1,243.5" stroke="#0000bd"/>
<path d="M1255.1,243.2L1260.6,243.2" stroke="#0000bf"/>
<path d="M1259.6,243.2L1261.6,243.2" stroke="#0000bf"/>
<path d="M1260.7,242.9L1264.0,245.2" stroke="#0000c0"/>
<path d="M1263.2,244.6L1265.8,246.4" stroke="#0000c0"/>
<path d="M1264.9,246.1L1267.7,246.1" stroke="#0000c1"/>
<path d="M1266.7,246.1L1271.1,246.1" stroke="#0000c2"/>
<path d="M1270.2,245.8L1275.1,249.3" stroke="#0000c3"/>
<path d="M1274.2,249.0L1278.8,249.0" stroke="#0000c4"/>
<path d="M1277.8,249.0L1280.3,249.0" stroke="#0000c5"/>
<path d="M1279.4,248.7L1282.2,250.8" stroke="#0000c5"/>
<path d="M1281.4,250.2L1284.0,252.2" stroke="#0000c6"/>
<path d="M1283.1,251.9L1285.9,251.9" stroke="#0000c6"/>
<path d="M1284.9,251.9L1288.9,251.9" stroke="#0000c7"/>
<path d="M1288.0,251.6L1289.6,252.8" stroke="#0000c8"/>
<path d="M1288.8,252.2L1292.5,255.1" stroke="#0000c8"/>
<path d="M1291.6,254.8L1297.2,254.8" stroke="#0000ca"/>
<path d="M1296.3,254.5L1299.9,257.4" stroke="#0000cb"/>
<path d="M1299.2,256.8L1300.6,258.0" stroke="#0000cc"/>
<path d="M1299.7,257.7L1303.8,257.7" stroke="#0000cd"/>
<path d="M1302.8,257.7L1305.0,257.7" stroke="#0000ce"/>
<path d="M1304.2,257.4L1307.0,259.8" stroke="#0000cf"/>
<path d="M1306.3,259.2L1308.3,260.9" stroke="#0000cf"/>
<path d="M1307.4,260.6L1310.8,260.6" stroke="#0000d0"/>
<path d="M1309.8,260.6L1312.6,260.6" stroke="#0000d1"/>
<path d="M1311.7,260.3L1314.1,262.4" stroke="#0000d2"/>
<path d="M1313.3,261.7L1315.6,263.8" stroke="#0000d3"/>
<path d="M1314.8,263.5L1317.6,263.5" stroke="#0000d3"/>
<path d="M1316.6,263.5L1319.7,263.5" stroke="#0000d4"/>
<path d="M1318.8,263.2L1321.0,265.2" stroke="#0000d5"/>
<path d="M1320.2,264.5L1322.6,266.7" stroke="#0000d6"/>
<path d="M1321.8,266.4L1324.5,266.4" stroke="#0000d6"/>
<path d="M1323.5,266.4L1326.5,266.4" stroke="#0000d7"/>
<path d="M1325.7,266.0L1327.8,268.1" stroke="#0000d8"/>
<path d="M1327.1,267.4L1329.3,269.7" stroke="#0000d8"/>
<path d="M1328.4,269.3L1331.3,269.3" stroke="#0000d9"/>
<path d="M1330.3,269.3L1333.0,269.3" stroke="#0000da"/>
<path d="M1332.2,268.9L1334.5,271.3" stroke="#0000db"/>
<path d="M1333.8,270.6L1335.7,272.6" stroke="#0000db"/>
<path d="M1334.8,272.2L1338.1,272.2" stroke="#0000dc"/>
<path d="M1337.1,272.2L1339.3,272.2" stroke="#0000dd"/>
<path d="M1338.4,271.8L1341.0,274.6" stroke="#0000dd"/>
<path d="M1340.3,273.9L1341.8,275.5" stroke="#0000de"/>
<path d="M1341.0,275.1L1345.3,275.1" stroke="#0000df"/>
<path d="M1344.4,274.7L1347.7,278.4" stroke="#0000e0"/>
<path d="M1346.8,278.0L1351.0,278.0" stroke="#0000e1"/>
<path d="M1350.2,277.6L1353.3,281.3" stroke="#0000e4"/>
<path d="M1352.5,280.9L1356.5,280.9" stroke="#0000e6"/>
<path d="M1355.7,280.5L1357.4,282.6" stroke="#0000e8"/>
<path d="M1356.7,281.8L1358.7,284.2" stroke="#0000e9"/>
<path d="M1357.9,283.8L1360.8,283.8" stroke="#0000ea"/>
<path d="M1359.8,283.8L1361.8,283.8" stroke="#0000eb"/>
<path d="M1361.0,283.4L1363.9,287.1" stroke="#0000ed"/>
<path d="M1363.1,286.7L1366.9,286.7" stroke="#0000ef"/>
<path d="M1366.1,286.3L1369.0,290.0" stroke="#0000f1"/>
<path d="M1368.2,289.6L1372.0,289.6" stroke="#0000f3"/>
<path d="M1371.2,289.2L1372.9,291.6" stroke="#0000f5" stroke-width="9.3"/>
<path d="M1372.4,290.8L1373.9,292.9" stroke="#0000f6" stroke-width="9.3"/>
<path d="M1373.1,292.5L1376.7,292.5" stroke="#0000f7" stroke-width="9.3"/>
<path d="M1375.9,292.1L1378.5,295.8" stroke="#0000f9" stroke-width="9.4"/>
<path d="M1377.7,295.4L1381.3,295.4" stroke="#0000fb" stroke-width="9.4"/>
<path d="M1380.5,295.0L1382.1,297.2" stroke="#0000fd" stroke-width="9.5"/>
<path d="M1381.5,296.4L1383.1,298.7" stroke="#0000fe" stroke-width="9.5"/>
<path d="M1382.3,298.0L1385.2,299.8" stroke="#0000ff" stroke-width="9.5"/>
<path d="M1384.2,299.2L1387.4,301.2" stroke="#0002ff" stroke-width="9.6"/>
<path d="M1386.4,300.5L1388.2,301.8" stroke="#0003ff" stroke-width="9.6"/>
<path d="M1387.2,301.1L1391.8,304.2" stroke="#0005ff" stroke-width="9.7"/>
<path d="M1390.8,303.5L1395.1,306.5" stroke="#0008ff" stroke-width="9.8"/>
<path d="M1394.1,305.8L1398.4,308.9" stroke="#000aff" stroke-width="9.9"/>
<path d="M1397.4,308.2L1401.6,311.2" stroke="#000dff" stroke-width="9.9"/>
<path d="M1400.6,310.5L1404.8,313.6" stroke="#0010ff" stroke-width="10.0"/>
<path d="M1403.8,312.9L1407.9,316.1" stroke="#0013ff" stroke-width="10.1"/>
<path d="M1407.0,315.4L1411.1,318.6" stroke="#0015ff" stroke-width="10.2"/>
<path d="M1410.1,317.8L1414.2,321.1" stroke="#0018ff" stroke-width="10.2"/>
<path d="M1413.3,320.3L1417.3,323.6" stroke="#001aff" stroke-width="10.2"/>
<path d="M1416.3,322.9L1420.3,326.2" stroke="#001dff" stroke-width="10.2"/>
<path d="M1419.4,325.4L1423.4,328.8" stroke="#0021ff" stroke-width="10.2"/>
<path d="M1422.4,328.0L1426.4,331.5" stroke="#0024ff" stroke-width="10.2"/>
<path d="M1425.5,330.7L1429.3,334.2" stroke="#0028ff" stroke-width="10.2"/>
<path d="M1428.4,333.3L1432.3,336.9" stroke="#002cff" stroke-width="10.2"/>
<path d="M1431.4,336.0L1435.2,339.6" stroke="#0030ff" stroke-width="10.2"/>
<path d="M1434.3,338.8L1438.1,342.4" stroke="#0033ff" stroke-width="10.2"/>
<path d="M1437.2,341.5L1440.9,345.2" stroke="#0037ff" stroke-width="10.2"/>
<path d="M1440.1,344.3L1443.7,348.0" stroke="#003bff" stroke-width="10.2"/>
<path d="M1442.9,347.2L1446.5,350.9" stroke="#0040ff" stroke-width="10.2"/>
<path d="M1445.7,350.0L1449.3,353.7" stroke="#0047ff" stroke-width="10.2"/>
<path d="M1448.5,352.9L1452.1,356.6" stroke="#004eff" stroke-width="10.2"/>
<path d="M1451.3,355.8L1454.8,359.6" stroke="#0055ff" stroke-width="10.2"/>
<path d="M1454.0,358.7L1457.5,362.5" stroke="#005cff" stroke-width="10.2"/>
<path d="M1456.7,361.6L1460.3,365.4" stroke="#0063ff" stroke-width="10.2"/>
<path d="M1459.5,364.5L1463.0,368.4" stroke="#0067ff" stroke-width="10.2"/>
<path d="M1462.2,367.5L1465.7,371.3" stroke="#006bff" stroke-width="10.2"/>
<path d="M1464.9,370.4L1468.4,374.3" stroke="#006fff" stroke-width="10.2"/>
<path d="M1467.6,373.4L1471.1,377.2" stroke="#0073ff" stroke-width="10.2"/>
<path d="M1470.3,376.3L1473.7,380.2" stroke="#0077ff" stroke-width="10.2"/>
<path d="M1472.9,379.3L1476.4,383.2" stroke="#007bff" stroke-width="10.2"/>
<path d="M1475.6,382.3L1479.1,386.1" stroke="#007fff" stroke-width="10.2"/>
<path d="M1478.3,385.2L1481.8,389.1" stroke="#0084ff" stroke-width="10.2"/>
<path d="M1481.0,388.2L1484.4,392.1" stroke="#008aff" stroke-width="10.2"/>
<path d="M1483.6,391.2L1487.1,395.1" stroke="#0090ff" stroke-width="10.2"/>
<path d="M1486.3,394.2L1489.7,398.1" stroke="#0096ff" stroke-width="10.2"/>
<path d="M1488.9,397.2L1492.4,401.1" stroke="#009cff" stroke-width="10.2"/>
<path d="M1491.6,400.2L1495.0,404.1" stroke="#00a2ff" stroke-width="10.2"/>
<path d="M1494.2,403.2L1497.6,407.1" stroke="#00a8ff" stroke-width="10.2"/>
<path d="M1496.9,406.2L1500.2,410.2" stroke="#00aeff" stroke-width="10.2"/>
<path d="M1499.5,409.2L1502.8,413.2" stroke="#00b4ff" stroke-width="10.2"/>
<path d="M1502.1,412.3L1505.4,416.3" stroke="#00baff" stroke-width="10.2"/>
<path d="M1504.6,415.3L1508.0,419.3" stroke="#00bfff" stroke-width="10.2"/>
<path d="M1507.2,418.4L1510.5,422.4" stroke="#00c5ff" stroke-width="10.2"/>
<path d="M1509.8,421.5L1513.1,425.5" stroke="#00cfff" stroke-width="10.2"/>
<path d="M1512.3,424.6L1515.6,428.6" stroke="#00daff" stroke-width="10.2"/>
<path d="M1514.8,427.7L1518.1,431.7" stroke="#00e6ff" stroke-width="10.2"/>
<path d="M1517.3,430.8L1520.5,434.9" stroke="#00f1ff" stroke-width="10.2"/>
<path d="M1519.8,433.9L1523.0,438.0" stroke="#00fcff" stroke-width="10.2"/>
<path d="M1522.3,437.1L1525.5,441.2" stroke="#04fffb" stroke-width="10.2"/>
<path d="M1524.7,440.2L1527.9,444.4" stroke="#09fff6" stroke-width="10.2"/>
<path d="M1527.2,443.4L1530.4,447.5" stroke="#0dfff2" stroke-width="10.2"/>
<path d="M1529.6,446.6L1532.8,450.7" stroke="#12ffed" stroke-width="10.2"/>
<path d="M1532.0,449.8L1535.2,453.9" stroke="#17ffe8" stroke-width="10.2"/>
<path d="M1534.5,452.9L1537.6,457.1" stroke="#1cffe3" stroke-width="10.2"/>
<path d="M1536.9,456.1L1540.0,460.3" stroke="#21ffde" stroke-width="10.2"/>
<path d="M1539.3,459.3L1542.4,463.5" stroke="#26ffd9" stroke-width="10.2"/>
<path d="M1541.7,462.5L1544.8,466.7" stroke="#2cffd3" stroke-width="10.2"/>
<path d="M1544.1,465.7L1547.2,469.9" stroke="#32ffcd" stroke-width="10.2"/>
<path d="M1546.5,469.0L1549.5,473.1" stroke="#38ffc7" stroke-width="10.2"/>
<path d="M1548.8,472.2L1551.9,476.3" stroke="#3effc1" stroke-width="10.2"/>
<path d="M1551.2,475.4L1554.3,479.6" stroke="#44ffbb" stroke-width="10.2"/>
<path d="M1553.6,478.6L1556.7,482.8" stroke="#4affb5" stroke-width="10.2"/>
<path d="M1555.9,481.8L1559.0,486.0" stroke="#51ffae" stroke-width="10.2"/>
<path d="M1558.3,485.1L1561.4,489.2" stroke="#59ffa6" stroke-width="10.2"/>
<path d="M1560.7,488.3L1563.8,492.5" stroke="#61ff9e" stroke-width="10.2"/>
<path d="M1563.0,491.5L1566.1,495.7" stroke="#69ff96" stroke-width="10.2"/>
<path d="M1565.4,494.7L1568.5,498.9" stroke="#70ff8f" stroke-width="10.2"/>
<path d="M1567.8,498.0L1570.8,502.2" stroke="#78ff87" stroke-width="10.2"/>
<path d="M1570.1,501.2L1573.2,505.4" stroke="#80ff7f" stroke-width="10.2"/>
<path d="M1572.5,504.4L1575.5,508.6" stroke="#88ff77" stroke-width="10.2"/>
<path d="M1574.8,507.7L1577.9,511.9" stroke="#8fff70" stroke-width="10.2"/>
<path d="M1577.2,510.9L1580.2,515.1" stroke="#97ff68" stroke-width="10.2"/>
<path d="M1579.5,514.1L1582.6,518.3" stroke="#9fff60" stroke-width="10.2"/>
<path d="M1581.9,517.4L1584.9,521.6" stroke="#a6ff59" stroke-width="10.2"/>
<path d="M1584.2,520.6L1587.3,524.8" stroke="#b0ff4f" stroke-width="10.2"/>
<path d="M1586.6,523.9L1589.6,528.1" stroke="#baff45" stroke-width="10.2"/>
<path d="M1588.9,527.1L1591.9,531.3" stroke="#c4ff3b" stroke-width="10.2"/>
<path d="M1591.2,530.4L1594.3,534.6" stroke="#cfff30" stroke-width="10.2"/>
<path d="M1593.6,533.6L1596.6,537.8" stroke="#d9ff26" stroke-width="10.3"/>
<path d="M1595.9,536.9L1598.9,541.1" stroke="#e3ff1c" stroke-width="10.3"/>
<path d="M1598.2,540.1L1601.2,544.3" stroke="#eeff11" stroke-width="10.3"/>
<path d="M1600.5,543.4L1603.6,547.6" stroke="#faff05" stroke-width="10.3"/>
<path d="M1602.9,546.6L1605.9,550.9" stroke="#fffb00" stroke-width="10.3"/>
<path d="M1605.2,549.9L1608.2,554.1" stroke="#fff500" stroke-width="10.4"/>
<path d="M1607.5,553.1L1610.5,557.4" stroke="#ffef00" stroke-width="10.4"/>
<path d="M1609.8,556.4L1612.8,560.7" stroke="#ffe900" stroke-width="10.4"/>
<path d="M1612.1,559.7L1615.1,563.9" stroke="#ffe300" stroke-width="10.4"/>
<path d="M1614.4,562.9L1617.4,567.2" stroke="#ffdd00" stroke-width="10.5"/>
<path d="M1616.7,566.2L1619.7,570.5" stroke="#ffd100" stroke-width="10.5"/>
<path d="M1619.0,569.5L1622.0,573.8" stroke="#ffc600" stroke-width="10.5"/>
<path d="M1621.3,572.8L1624.3,577.0" stroke="#ffba00" stroke-width="10.5"/>
<path d="M1623.6,576.0L1626.6,580.3" stroke="#ffaf00" stroke-width="10.6"/>
<path d="M1625.9,579.3L1628.9,583.6" stroke="#ffa400" stroke-width="10.6"/>
<path d="M1628.2,582.6L1631.1,586.9" stroke="#ff9b00" stroke-width="10.6"/>
<path d="M1630.5,585.9L1633.4,590.2" stroke="#ff9100" stroke-width="10.6"/>
<path d="M1632.7,589.2L1635.7,593.5" stroke="#ff8700" stroke-width="10.6"/>
<path d="M1635.0,592.5L1638.0,596.8" stroke="#ff7d00" stroke-width="10.7"/>
<path d="M1637.3,595.8L1640.2,600.1" stroke="#ff7400" stroke-width="10.7"/>
<path d="M1639.5,599.1L1642.5,603.4" stroke="#ff6b00" stroke-width="10.7"/>
<path d="M1641.8,602.4L1644.7,606.7" stroke="#ff6200" stroke-width="10.7"/>
<path d="M1644.1,605.7L1647.0,610.0" stroke="#ff5a00" stroke-width="10.7"/>
<path d="M1646.3,609.0L1649.2,613.3" stroke="#ff5200" stroke-width="10.7"/>
<path d="M1648.6,612.3L1651.5,616.6" stroke="#ff4a00" stroke-width="10.7"/>
<path d="M1650.8,615.6L1653.7,619.9" stroke="#ff4200" stroke-width="10.7"/>
<path d="M1653.0,618.9L1656.0,623.2" stroke="#ff3a00" stroke-width="10.7"/>
<path d="M1655.3,622.2L1658.2,626.5" stroke="#ff3200" stroke-width="10.7"/>
<path d="M1657.5,625.5L1660.4,629.9" stroke="#ff2900" stroke-width="10.7"/>
<path d="M1659.7,628.9L1662.6,633.2" stroke="#ff2100" stroke-width="10.7"/>
<path d="M1662.0,632.2L1664.9,636.5" stroke="#ff1800" stroke-width="10.7"/>
<path d="M1664.2,635.5L1667.1,639.9" stroke="#ff0f00" stroke-width="10.7"/>
<path d="M1666.4,638.9L1669.3,643.2" stroke="#ff0800" stroke-width="10.7"/>
<path d="M1668.6,642.2L1671.5,646.5" stroke="#ff0100" stroke-width="10.7"/>
<path d="M1670.8,645.5L1673.7,649.9" stroke="#f90000" stroke-width="10.7"/>
<path d="M1673.0,648.9L1675.9,653.2" stroke="#f20000" stroke-width="10.7"/>
<path d="M1675.2,652.2L1678.1,656.6" stroke="#eb0000" stroke-width="10.7"/>
<path d="M1677.4,655.6L1680.2,659.9" stroke="#e40000" stroke-width="10.7"/>
<path d="M1679.6,658.9L1682.4,663.3" stroke="#de0000" stroke-width="10.7"/>
<path d="M1681.8,662.3L1684.6,666.6" stroke="#d90000" stroke-width="10.7"/>
<path d="M1683.9,665.6L1686.8,670.0" stroke="#d30000" stroke-width="10.7"/>
<path d="M1686.1,669.0L1689.0,673.3" stroke="#ce0000" stroke-width="10.7"/>
<path d="M1688.3,672.3L1691.1,676.7" stroke="#c80000" stroke-width="10.7"/>
<path d="M1690.5,675.7L1693.3,680.0" stroke="#c30000" stroke-width="10.7"/>
<path d="M1692.7,679.0L1695.5,683.4" stroke="#bd0000" stroke-width="10.7"/>
<path d="M1694.9,682.4L1697.7,686.7" stroke="#b70000" stroke-width="10.7"/>
<path d="M1697.1,685.7L1700.0,690.0" stroke="#b00000" stroke-width="10.7"/>
<path d="M1699.3,689.0L1702.2,693.4" stroke="#a90000" stroke-width="10.7"/>
<path d="M1701.5,692.4L1704.4,696.7" stroke="#a20000" stroke-width="10.7"/>
<path d="M1703.8,695.7L1706.7,699.9" stroke="#9b0000" stroke-width="10.7"/>
<path d="M1706.0,699.0L1709.0,703.2" stroke="#950000" stroke-width="10.7"/>
<path d="M1708.3,702.2L1711.4,706.5" stroke="#920000" stroke-width="10.7"/>
<path d="M1710.6,705.5L1713.7,709.7" stroke="#8f0000" stroke-width="10.7"/>
<path d="M1713.0,708.7L1716.1,712.9" stroke="#8b0000" stroke-width="10.7"/>
<path d="M1715.4,711.9L1718.6,716.1" stroke="#880000" stroke-width="10.7"/>
<path d="M1717.8,715.1L1721.0,719.2" stroke="#850000" stroke-width="10.7"/>
<path d="M1720.3,718.3L1723.6,722.3" stroke="#820000" stroke-width="10.7"/>
<path d="M1722.8,721.4L1726.2,725.3" stroke="#820000" stroke-width="10.7"/>
<path d="M1725.4,724.4L1728.8,728.3" stroke="#810000" stroke-width="10.7"/>
<path d="M1728.0,727.4L1731.6,731.2" stroke="#810000" stroke-width="10.7"/>
<path d="M1730.7,730.4L1734.4,734.1" stroke="#800000" stroke-width="10.7"/>
<path d="M1733.5,733.2L1737.2,737.0" stroke="#800000" stroke-width="10.7"/>
<path d="M1736.4,736.0L1739.5,740.2" stroke="#800000" stroke-width="10.7"/>
<path d="M1738.8,739.2L1741.9,743.4" stroke="#800000" stroke-width="10.7"/>
<path d="M1741.2,742.4L1744.3,746.6" stroke="#800000" stroke-width="10.7"/>
<path d="M1743.6,745.6L1746.8,749.7" stroke="#800000" stroke-width="10.7"/>
<path d="M1746.0,748.8L1749.2,752.9" stroke="#830000" stroke-width="10.7"/>
<path d="M1748.5,752.0L1751.7,756.1" stroke="#860000" stroke-width="10.7"/>
<path d="M1751.0,755.1L1754.2,759.2" stroke="#880000" stroke-width="10.7"/>
<path d="M1753.4,758.3L1756.7,762.3" stroke="#8b0000" stroke-width="10.7"/>
<path d="M1755.9,761.4L1759.1,765.5" stroke="#910000" stroke-width="10.7"/>
<path d="M1758.4,764.5L1761.7,768.6" stroke="#960000" stroke-width="10.7"/>
<path d="M1760.9,767.6L1764.2,771.7" stroke="#9c0000" stroke-width="10.7"/>
<path d="M1763.4,770.7L1766.7,774.8" stroke="#a20000" stroke-width="10.7"/>
<path d="M1766.0,773.8L1769.3,777.8" stroke="#a70000" stroke-width="10.7"/>
<path d="M1768.5,776.9L1771.8,780.9" stroke="#ad0000" stroke-width="10.7"/>
<path d="M1771.1,780.0L1774.4,784.0" stroke="#b40000" stroke-width="10.7"/>
<path d="M1773.6,783.1L1777.0,787.0" stroke="#be0000" stroke-width="10.7"/>
<path d="M1776.2,786.1L1779.6,790.1" stroke="#c70000" stroke-width="10.7"/>
<path d="M1778.8,789.1L1782.2,793.1" stroke="#d00000" stroke-width="10.7"/>
<path d="M1781.4,792.2L1784.9,796.1" stroke="#d90000" stroke-width="10.7"/>
<path d="M1784.1,795.2L1787.5,799.1" stroke="#e20000" stroke-width="10.7"/>
<path d="M1786.7,798.2L1790.2,802.1" stroke="#eb0000" stroke-width="10.7"/>
<path d="M1789.4,801.2L1792.9,805.0" stroke="#f10000" stroke-width="10.7"/>
<path d="M1792.1,804.1L1795.6,808.0" stroke="#f80000" stroke-width="10.7"/>
<path d="M1794.8,807.1L1798.3,810.9" stroke="#fe0000" stroke-width="10.7"/>
<path d="M1797.5,810.1L1801.0,813.9" stroke="#ff0900" stroke-width="10.7"/>
<path d="M1800.2,813.0L1803.7,816.8" stroke="#ff1400" stroke-width="10.7"/>
<path d="M1802.9,815.9L1806.5,819.7" stroke="#ff2000" stroke-width="10.7"/>
<path d="M1805.7,818.8L1809.3,822.5" stroke="#ff2c00" stroke-width="10.7"/>
<path d="M1808.5,821.7L1812.1,825.4" stroke="#ff3d00" stroke-width="10.7"/>
<path d="M1811.2,824.5L1814.9,828.2" stroke="#ff4d00" stroke-width="10.7"/>
<path d="M1814.0,827.4L1817.7,831.1" stroke="#ff6300" stroke-width="10.7"/>
<path d="M1816.9,830.2L1820.6,833.9" stroke="#ff7900" stroke-width="10.7"/>
<path d="M1819.7,833.0L1823.4,836.7" stroke="#ff8800" stroke-width="10.7"/>
<path d="M1822.6,835.8L1826.3,839.4" stroke="#ff9500" stroke-width="10.7"/>
<path d="M1825.4,838.6L1829.2,842.2" stroke="#ffa100" stroke-width="10.7"/>
<path d="M1828.3,841.4L1832.1,844.9" stroke="#ffae00" stroke-width="10.7"/>
<path d="M1831.3,844.1L1835.1,847.6" stroke="#ffba00" stroke-width="10.7"/>
<path d="M1834.2,846.8L1838.0,850.3" stroke="#ffc700" stroke-width="10.7"/>
<path d="M1837.1,849.5L1841.0,853.0" stroke="#ffd400" stroke-width="10.7"/>
<path d="M1840.1,852.2L1844.0,855.7" stroke="#ffe100" stroke-width="10.7"/>
<path d="M1843.1,854.9L1847.0,858.3" stroke="#ffee00" stroke-width="10.7"/>
<path d="M1846.1,857.5L1850.1,860.9" stroke="#fffa00" stroke-width="10.7"/>
<path d="M1849.2,860.1L1853.1,863.4" stroke="#f6ff09" stroke-width="10.7"/>
<path d="M1852.2,862.7L1856.2,866.0" stroke="#e9ff16" stroke-width="10.7"/>
<path d="M1855.3,865.2L1859.3,868.5" stroke="#dbff24" stroke-width="10.7"/>
<path d="M1858.4,867.8L1862.5,871.0" stroke="#cdff32" stroke-width="10.7"/>
<path d="M1861.5,870.3L1865.6,873.5" stroke="#bfff40" stroke-width="10.7"/>
<path d="M1864.7,872.7L1868.8,875.9" stroke="#b1ff4e" stroke-width="10.7"/>
<path d="M1867.8,875.2L1872.0,878.3" stroke="#a4ff5b" stroke-width="10.7"/>
<path d="M1871.0,877.6L1875.2,880.7" stroke="#97ff68" stroke-width="10.7"/>
<path d="M1874.2,880.0L1878.4,883.1" stroke="#8bff74" stroke-width="10.7"/>
<path d="M1877.4,882.4L1881.7,885.4" stroke="#7eff81" stroke-width="10.7"/>
<path d="M1880.7,884.7L1885.0,887.7" stroke="#72ff8d" stroke-width="10.7"/>
<path d="M1884.0,887.0L1888.3,889.9" stroke="#65ff9a" stroke-width="10.7"/>
<path d="M1887.3,889.2L1891.6,892.1" stroke="#57ffa8" stroke-width="10.7"/>
<path d="M1890.6,891.5L1894.9,894.3" stroke="#45ffba" stroke-width="10.7"/>
<path d="M1893.9,893.7L1898.3,896.5" stroke="#33ffcc" stroke-width="10.7"/>
<path d="M1897.3,895.9L1901.7,898.6" stroke="#20ffdf" stroke-width="10.7"/>
<path d="M1900.7,898.0L1905.1,900.7" stroke="#0dfff2" stroke-width="10.7"/>
<path d="M1904.1,900.1L1908.5,902.8" stroke="#00f9ff" stroke-width="10.7"/>
<path d="M1907.5,902.2L1912.0,904.8" stroke="#00eaff" stroke-width="10.7"/>
<path d="M1910.9,904.2L1915.4,906.9" stroke="#00dbff" stroke-width="10.7"/>
<path d="M1914.4,906.3L1918.9,908.8" stroke="#00ccff" stroke-width="10.7"/>
<path d="M1917.8,908.2L1922.4,910.8" stroke="#00bcff" stroke-width="10.7"/>
<path d="M1921.3,910.2L1925.9,912.7" stroke="#00aeff" stroke-width="10.7"/>
<path d="M1924.8,912.1L1929.4,914.6" stroke="#00a0ff" stroke-width="10.7"/>
<path d="M1928.4,914.0L1932.9,916.5" stroke="#0091ff" stroke-width="10.7"/>
<path d="M1931.9,915.9L1936.5,918.3" stroke="#0083ff" stroke-width="10.7"/>
<path d="M1935.4,917.7L1940.1,920.1" stroke="#0074ff" stroke-width="10.7"/>
<path d="M1939.0,919.6L1943.7,921.9" stroke="#0065ff" stroke-width="10.7"/>
<path d="M1942.6,921.3L1947.2,923.6" stroke="#0056ff" stroke-width="10.7"/>
<path d="M1946.2,923.1L1950.9,925.4" stroke="#0047ff" stroke-width="10.7"/>
<path d="M1949.8,924.8L1954.5,927.1" stroke="#0037ff" stroke-width="10.7"/>
<path d="M1953.4,926.6L1958.1,928.7" stroke="#0028ff" stroke-width="10.7"/>
<path d="M1957.0,928.2L1961.7,930.4" stroke="#001cff" stroke-width="10.7"/>
<path d="M1960.7,929.9L1965.4,932.0" stroke="#0014ff" stroke-width="10.7"/>
<path d="M1964.3,931.5L1969.1,933.6" stroke="#000dff" stroke-width="10.7"/>
<path d="M1968.0,933.2L1972.7,935.2" stroke="#0005ff" stroke-width="10.7"/>
<path d="M1971.6,934.8L1976.4,936.8" stroke="#0000fa" stroke-width="10.7"/>
<path d="M1975.3,936.3L1980.1,938.4" stroke="#0000ea" stroke-width="10.7"/>
<path d="M1979.0,937.9L1983.8,939.9" stroke="#0000da" stroke-width="10.7"/>
<path d="M1982.7,939.4L1987.5,941.4" stroke="#0000ca" stroke-width="10.7"/>
<path d="M1986.4,941.0L1991.2,942.9" stroke="#0000ba" stroke-width="10.7"/>
<path d="M1990.1,942.5L1994.9,944.4" stroke="#0000ae" stroke-width="10.7"/>
<path d="M1993.8,944.0L1998.6,945.9" stroke="#0000a3" stroke-width="10.7"/>
<path d="M1997.5,945.4L2002.1,947.2" stroke="#000096" stroke-width="10.7"/>
</g>
<g fill="#000">
<circle cx="1019.6" cy="854.8" r="10.85"/>
<circle cx="1053.0" cy="925.2" r="10.85"/>
<circle cx="1087.5" cy="874.1" r="10.85"/>
<circle cx="1143.1" cy="877.3" r="10.85"/>
<circle cx="1155.6" cy="877.8" r="10.85"/>
<circle cx="1137.0" cy="931.7" r="10.85"/>
<circle cx="1143.8" cy="934.6" r="10.85"/>
<circle cx="1229.4" cy="854.8" r="10.85"/>
<circle cx="1273.0" cy="837.3" r="10.85"/>
<circle cx="1260.9" cy="889.6" r="10.85"/>
<circle cx="1195.7" cy="920.9" r="10.85"/>
<circle cx="1188.8" cy="929.3" r="10.85"/>
<circle cx="1247.6" cy="921.9" r="10.85"/>
<circle cx="1318.6" cy="877.3" r="10.85"/>
<circle cx="1328.7" cy="909.8" r="10.85"/>
<circle cx="1322.6" cy="921.8" r="10.85"/>
<circle cx="1303.5" cy="927.4" r="10.85"/>
<circle cx="1318.2" cy="932.1" r="10.85"/>
<circle cx="1335.0" cy="937.2" r="10.85"/>
<circle cx="1362.2" cy="909.3" r="10.85"/>
<circle cx="1362.2" cy="921.1" r="10.85"/>
<circle cx="1371.0" cy="899.5" r="10.85"/>
<circle cx="1380.5" cy="898.6" r="10.85"/>
<circle cx="1399.6" cy="899.8" r="10.85"/>
<circle cx="1383.6" cy="942.1" r="10.85"/>
<circle cx="1430.0" cy="881.2" r="10.85"/>
<circle cx="1436.0" cy="892.0" r="10.85"/>
<circle cx="1464.6" cy="868.0" r="10.85"/>
<circle cx="1455.4" cy="912.0" r="10.85"/>
<circle cx="1455.4" cy="946.8" r="10.85"/>
<circle cx="1473.7" cy="946.8" r="10.85"/>
<circle cx="1510.1" cy="946.8" r="10.85"/>
<circle cx="1531.7" cy="946.8" r="10.85"/>
<circle cx="1542.0" cy="946.0" r="10.85"/>
<circle cx="1560.3" cy="946.0" r="10.85"/>
<circle cx="1550.8" cy="840.8" r="10.85"/>
<circle cx="1547.9" cy="854.0" r="10.85"/>
<circle cx="1585.2" cy="875.6" r="10.85"/>
<circle cx="1556.7" cy="901.0" r="10.85"/>
<circle cx="1556.7" cy="924.8" r="10.85"/>
<circle cx="1563.3" cy="931.4" r="10.85"/>
<circle cx="1606.3" cy="917.1" r="10.85"/>
<circle cx="1600.5" cy="929.9" r="10.85"/>
<circle cx="1603.4" cy="946.8" r="10.85"/>
<circle cx="1615.9" cy="946.8" r="10.85"/>
<circle cx="1633.8" cy="893.2" r="10.85"/>
<circle cx="1633.8" cy="902.7" r="10.85"/>
<circle cx="1636.7" cy="917.9" r="10.85"/>
<circle cx="1631.3" cy="932.8" r="10.85"/>
<circle cx="1637.1" cy="939.4" r="10.85"/>
<circle cx="1656.2" cy="942.4" r="10.85"/>
<circle cx="1659.2" cy="946.8" r="10.85"/>
<circle cx="1689.7" cy="881.6" r="10.85"/>
<circle cx="1689.7" cy="947.5" r="10.85"/>
<circle cx="1733.3" cy="920.4" r="10.85"/>
<circle cx="1733.3" cy="938.7" r="10.85"/>
<circle cx="1769.7" cy="889.5" r="10.85"/>
<circle cx="1769.7" cy="926.5" r="10.85"/>
<circle cx="1769.7" cy="942.6" r="10.85"/>
<circle cx="1798.2" cy="927.0" r="10.85"/>
<circle cx="1798.2" cy="942.2" r="10.85"/>
<circle cx="1257.8" cy="353.4" r="10.85"/>
<circle cx="1273.2" cy="362.8" r="10.85"/>
<circle cx="1362.1" cy="353.4" r="10.85"/>
<circle cx="1550.7" cy="362.6" r="10.85"/>
<circle cx="1529.3" cy="447.2" r="10.85"/>
<circle cx="1603.4" cy="553.6" r="10.85"/>
<circle cx="1585.2" cy="628.3" r="10.85"/>
<circle cx="1603.4" cy="662.7" r="10.85"/>
<circle cx="1647.0" cy="713.9" r="10.85"/>
<circle cx="1485.5" cy="610.0" r="10.85"/>
</g>
<circle cx="1736" cy="736" r="14.6" fill="#000" stroke="#ff0000" stroke-width="10.6"/>
<path d="M1736.3,736.9 L1030,736.9" fill="none" stroke="#505050" stroke-width="7.2"/>
<path d="M1736,734.8 L1736,915" fill="none" stroke="#505050" stroke-width="7.2"/>
<polygon points="1735.8,948.6 1716.5,897.1 1735.8,912.1 1755.1,897.1" fill="#505050"/>
<polygon points="1018.6,736.9 1070.1,717.6 1055.1,736.9 1070.1,756.2" fill="#505050"/>
<path d="M1831.7,677.9 L1765,721.6" fill="none" stroke="#808080" stroke-width="4.5"/>
<polygon points="1741.2,737.6 1766.9,702.8 1765.9,721.3 1783.4,727.8" fill="#808080"/>
</g>
<path d="M358.5,203.6 L990,206.6" fill="none" stroke="#b2b2b2" stroke-width="7.5"/>
<polygon points="1019.6,206.8 968.0,225.8 983.1,206.6 968.2,187.2" fill="#b2b2b2"/>
<path d="M2008.8,1260.8 L2008.8,980" fill="none" stroke="#b2b2b2" stroke-width="7.5"/>
<polygon points="2008.8,946.6 2028.1,998.1 2008.8,983.1 1989.5,998.1" fill="#b2b2b2"/>
<text x="998.8" y="809.4" text-anchor="end" font-family="'Liberation Sans', Arial, Helvetica, sans-serif" font-size="50.3" fill="#262626">1000</text>
<text x="998.8" y="643.1" text-anchor="end" font-family="'Liberation Sans', Arial, Helvetica, sans-serif" font-size="50.3" fill="#262626">2000</text>
<text x="998.8" y="476.7" text-anchor="end" font-family="'Liberation Sans', Arial, Helvetica, sans-serif" font-size="50.3" fill="#262626">3000</text>
<text x="998.8" y="310.4" text-anchor="end" font-family="'Liberation Sans', Arial, Helvetica, sans-serif" font-size="50.3" fill="#262626">4000</text>
<text x="998.8" y="144.1" text-anchor="end" font-family="'Liberation Sans', Arial, Helvetica, sans-serif" font-size="50.3" fill="#262626">5000</text>
<text x="1105.0" y="1018" text-anchor="middle" font-family="'Liberation Sans', Arial, Helvetica, sans-serif" font-size="50.3" fill="#262626">-0.2</text>
<text x="1307.7" y="1018" text-anchor="middle" font-family="'Liberation Sans', Arial, Helvetica, sans-serif" font-size="50.3" fill="#262626">0</text>
<text x="1510.4" y="1018" text-anchor="middle" font-family="'Liberation Sans', Arial, Helvetica, sans-serif" font-size="50.3" fill="#262626">0.2</text>
<text x="1713.1" y="1018" text-anchor="middle" font-family="'Liberation Sans', Arial, Helvetica, sans-serif" font-size="50.3" fill="#262626">0.4</text>
<text x="1915.9" y="1018" text-anchor="middle" font-family="'Liberation Sans', Arial, Helvetica, sans-serif" font-size="50.3" fill="#262626">0.6</text>
<text x="1750.8" y="117" text-anchor="middle" font-family="'Liberation Sans', Arial, Helvetica, sans-serif" font-size="48" fill="#262626">Probability density scale</text>
<rect x="1543.60" y="144.8" width="7.55" height="25.0" fill="#000087"/>
<rect x="1550.55" y="144.8" width="7.55" height="25.0" fill="#000097"/>
<rect x="1557.50" y="144.8" width="7.55" height="25.0" fill="#0000a7"/>
<rect x="1564.45" y="144.8" width="7.55" height="25.0" fill="#0000b7"/>
<rect x="1571.40" y="144.8" width="7.55" height="25.0" fill="#0000c7"/>
<rect x="1578.35" y="144.8" width="7.55" height="25.0" fill="#0000d7"/>
<rect x="1585.30" y="144.8" width="7.55" height="25.0" fill="#0000e7"/>
<rect x="1592.25" y="144.8" width="7.55" height="25.0" fill="#0000f7"/>
<rect x="1599.20" y="144.8" width="7.55" height="25.0" fill="#0008ff"/>
<rect x="1606.15" y="144.8" width="7.55" height="25.0" fill="#0018ff"/>
<rect x="1613.10" y="144.8" width="7.55" height="25.0" fill="#0028ff"/>
<rect x="1620.05" y="144.8" width="7.55" height="25.0" fill="#0038ff"/>
<rect x="1627.00" y="144.8" width="7.55" height="25.0" fill="#0048ff"/>
<rect x="1633.95" y="144.8" width="7.55" height="25.0" fill="#0058ff"/>
<rect x="1640.90" y="144.8" width="7.55" height="25.0" fill="#0068ff"/>
<rect x="1647.85" y="144.8" width="7.55" height="25.0" fill="#0078ff"/>
<rect x="1654.80" y="144.8" width="7.55" height="25.0" fill="#0087ff"/>
<rect x="1661.75" y="144.8" width="7.55" height="25.0" fill="#0097ff"/>
<rect x="1668.70" y="144.8" width="7.55" height="25.0" fill="#00a7ff"/>
<rect x="1675.65" y="144.8" width="7.55" height="25.0" fill="#00b7ff"/>
<rect x="1682.60" y="144.8" width="7.55" height="25.0" fill="#00c7ff"/>
<rect x="1689.55" y="144.8" width="7.55" height="25.0" fill="#00d7ff"/>
<rect x="1696.50" y="144.8" width="7.55" height="25.0" fill="#00e7ff"/>
<rect x="1703.45" y="144.8" width="7.55" height="25.0" fill="#00f7ff"/>
<rect x="1710.40" y="144.8" width="7.55" height="25.0" fill="#08fff7"/>
<rect x="1717.35" y="144.8" width="7.55" height="25.0" fill="#18ffe7"/>
<rect x="1724.30" y="144.8" width="7.55" height="25.0" fill="#28ffd7"/>
<rect x="1731.25" y="144.8" width="7.55" height="25.0" fill="#38ffc7"/>
<rect x="1738.20" y="144.8" width="7.55" height="25.0" fill="#48ffb7"/>
<rect x="1745.15" y="144.8" width="7.55" height="25.0" fill="#58ffa7"/>
<rect x="1752.10" y="144.8" width="7.55" height="25.0" fill="#68ff97"/>
<rect x="1759.05" y="144.8" width="7.55" height="25.0" fill="#78ff87"/>
<rect x="1766.00" y="144.8" width="7.55" height="25.0" fill="#87ff78"/>
<rect x="1772.95" y="144.8" width="7.55" height="25.0" fill="#97ff68"/>
<rect x="1779.90" y="144.8" width="7.55" height="25.0" fill="#a7ff58"/>
<rect x="1786.85" y="144.8" width="7.55" height="25.0" fill="#b7ff48"/>
<rect x="1793.80" y="144.8" width="7.55" height="25.0" fill="#c7ff38"/>
<rect x="1800.75" y="144.8" width="7.55" height="25.0" fill="#d7ff28"/>
<rect x="1807.70" y="144.8" width="7.55" height="25.0" fill="#e7ff18"/>
<rect x="1814.65" y="144.8" width="7.55" height="25.0" fill="#f7ff08"/>
<rect x="1821.60" y="144.8" width="7.55" height="25.0" fill="#fff700"/>
<rect x="1828.55" y="144.8" width="7.55" height="25.0" fill="#ffe700"/>
<rect x="1835.50" y="144.8" width="7.55" height="25.0" fill="#ffd700"/>
<rect x="1842.45" y="144.8" width="7.55" height="25.0" fill="#ffc700"/>
<rect x="1849.40" y="144.8" width="7.55" height="25.0" fill="#ffb700"/>
<rect x="1856.35" y="144.8" width="7.55" height="25.0" fill="#ffa700"/>
<rect x="1863.30" y="144.8" width="7.55" height="25.0" fill="#ff9700"/>
<rect x="1870.25" y="144.8" width="7.55" height="25.0" fill="#ff8700"/>
<rect x="1877.20" y="144.8" width="7.55" height="25.0" fill="#ff7800"/>
<rect x="1884.15" y="144.8" width="7.55" height="25.0" fill="#ff6800"/>
<rect x="1891.10" y="144.8" width="7.55" height="25.0" fill="#ff5800"/>
<rect x="1898.05" y="144.8" width="7.55" height="25.0" fill="#ff4800"/>
<rect x="1905.00" y="144.8" width="7.55" height="25.0" fill="#ff3800"/>
<rect x="1911.95" y="144.8" width="7.55" height="25.0" fill="#ff2800"/>
<rect x="1918.90" y="144.8" width="7.55" height="25.0" fill="#ff1800"/>
<rect x="1925.85" y="144.8" width="7.55" height="25.0" fill="#ff0800"/>
<rect x="1932.80" y="144.8" width="7.55" height="25.0" fill="#f70000"/>
<rect x="1939.75" y="144.8" width="7.55" height="25.0" fill="#e70000"/>
<rect x="1946.70" y="144.8" width="7.55" height="25.0" fill="#d70000"/>
<rect x="1953.65" y="144.8" width="7.55" height="25.0" fill="#c70000"/>
<rect x="1960.60" y="144.8" width="7.55" height="25.0" fill="#b70000"/>
<rect x="1967.55" y="144.8" width="7.55" height="25.0" fill="#a70000"/>
<rect x="1974.50" y="144.8" width="7.55" height="25.0" fill="#970000"/>
<rect x="1981.45" y="144.8" width="7.55" height="25.0" fill="#870000"/>
<rect x="1543.6" y="144.8" width="444.8000000000002" height="25.0" fill="none" stroke="#000000" stroke-width="1.2"/>
<line x1="1766.30" y1="169.80" x2="1766.30" y2="164.30" stroke="#000000" stroke-width="1.5" />
<text x="1543.5" y="236.2" text-anchor="middle" font-family="'Liberation Sans', Arial, Helvetica, sans-serif" font-size="48" fill="#262626">0</text>
<text x="1766" y="236.2" text-anchor="middle" font-family="'Liberation Sans', Arial, Helvetica, sans-serif" font-size="48" fill="#262626">0.5</text>
<text x="1986.5" y="236.2" text-anchor="middle" font-family="'Liberation Sans', Arial, Helvetica, sans-serif" font-size="48" fill="#262626">1</text>
<rect x="1494" y="236.3" width="517" height="0.9" fill="#fff"/>
<text x="1600" y="481" font-family="'Liberation Sans', Arial, Helvetica, sans-serif" font-weight="bold" font-size="59.6" fill="#ff0000">50 year</text>
<text x="1702.5" y="609.1" font-family="'Liberation Sans', Arial, Helvetica, sans-serif" font-size="40" fill="#ff0000">Point of maximum</text>
<text x="1702.5" y="660.1" font-family="'Liberation Sans', Arial, Helvetica, sans-serif" font-size="40" fill="#ff0000">probability density</text>
<text x="2042.6" y="37.3" text-anchor="end" font-family="'Liberation Serif', 'Times New Roman', Times, serif" font-weight="bold" font-size="55.4" fill="#ff0000">JOE</text>
</svg>
</body></html>
